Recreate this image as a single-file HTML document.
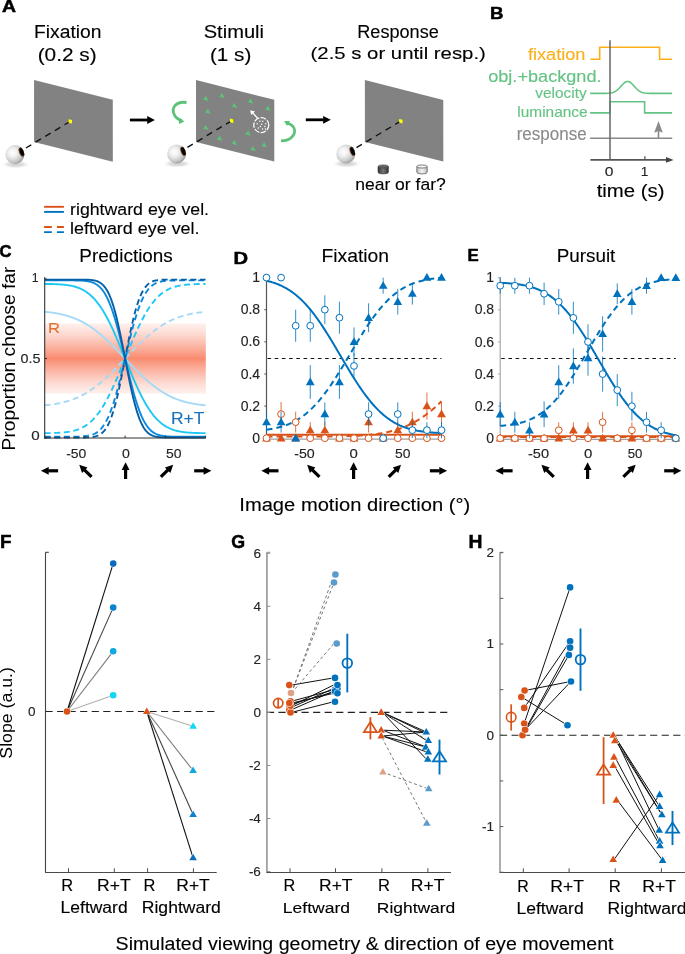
<!DOCTYPE html>
<html><head><meta charset="utf-8"><style>
html,body{margin:0;padding:0;background:#fff;overflow:hidden;}
svg{display:block;will-change:transform;}
text{font-family:"Liberation Sans", sans-serif;}
</style></head><body>
<svg width="685" height="954" viewBox="0 0 685 954">
<rect width="685" height="954" fill="#fff"/>
<defs>
<radialGradient id="eyeg" cx="0.38" cy="0.4" r="0.65">
<stop offset="0" stop-color="#ffffff"/><stop offset="0.35" stop-color="#f0f0f0"/><stop offset="0.75" stop-color="#c8c8c8"/><stop offset="1" stop-color="#999999"/></radialGradient>
<radialGradient id="shad" cx="0.5" cy="0.5" r="0.5">
<stop offset="0" stop-color="#cdcdcd"/><stop offset="0.55" stop-color="#e2e2e2"/><stop offset="1" stop-color="#ffffff" stop-opacity="0"/></radialGradient>
<linearGradient id="band" x1="0" y1="0" x2="0" y2="1"><stop offset="0.0000" stop-color="#f98a6e" stop-opacity="0.132"/><stop offset="0.0143" stop-color="#f98a6e" stop-opacity="0.145"/><stop offset="0.0286" stop-color="#f98a6e" stop-opacity="0.160"/><stop offset="0.0429" stop-color="#f98a6e" stop-opacity="0.175"/><stop offset="0.0571" stop-color="#f98a6e" stop-opacity="0.191"/><stop offset="0.0714" stop-color="#f98a6e" stop-opacity="0.208"/><stop offset="0.0857" stop-color="#f98a6e" stop-opacity="0.226"/><stop offset="0.1000" stop-color="#f98a6e" stop-opacity="0.245"/><stop offset="0.1143" stop-color="#f98a6e" stop-opacity="0.265"/><stop offset="0.1286" stop-color="#f98a6e" stop-opacity="0.286"/><stop offset="0.1429" stop-color="#f98a6e" stop-opacity="0.308"/><stop offset="0.1571" stop-color="#f98a6e" stop-opacity="0.330"/><stop offset="0.1714" stop-color="#f98a6e" stop-opacity="0.353"/><stop offset="0.1857" stop-color="#f98a6e" stop-opacity="0.377"/><stop offset="0.2000" stop-color="#f98a6e" stop-opacity="0.402"/><stop offset="0.2143" stop-color="#f98a6e" stop-opacity="0.427"/><stop offset="0.2286" stop-color="#f98a6e" stop-opacity="0.452"/><stop offset="0.2429" stop-color="#f98a6e" stop-opacity="0.479"/><stop offset="0.2571" stop-color="#f98a6e" stop-opacity="0.505"/><stop offset="0.2714" stop-color="#f98a6e" stop-opacity="0.532"/><stop offset="0.2857" stop-color="#f98a6e" stop-opacity="0.559"/><stop offset="0.3000" stop-color="#f98a6e" stop-opacity="0.586"/><stop offset="0.3143" stop-color="#f98a6e" stop-opacity="0.613"/><stop offset="0.3286" stop-color="#f98a6e" stop-opacity="0.640"/><stop offset="0.3429" stop-color="#f98a6e" stop-opacity="0.668"/><stop offset="0.3571" stop-color="#f98a6e" stop-opacity="0.695"/><stop offset="0.3714" stop-color="#f98a6e" stop-opacity="0.723"/><stop offset="0.3857" stop-color="#f98a6e" stop-opacity="0.751"/><stop offset="0.4000" stop-color="#f98a6e" stop-opacity="0.779"/><stop offset="0.4143" stop-color="#f98a6e" stop-opacity="0.808"/><stop offset="0.4286" stop-color="#f98a6e" stop-opacity="0.837"/><stop offset="0.4429" stop-color="#f98a6e" stop-opacity="0.867"/><stop offset="0.4571" stop-color="#f98a6e" stop-opacity="0.898"/><stop offset="0.4714" stop-color="#f98a6e" stop-opacity="0.930"/><stop offset="0.4857" stop-color="#f98a6e" stop-opacity="0.964"/><stop offset="0.5000" stop-color="#f98a6e" stop-opacity="1.000"/><stop offset="0.5143" stop-color="#f98a6e" stop-opacity="0.964"/><stop offset="0.5286" stop-color="#f98a6e" stop-opacity="0.930"/><stop offset="0.5429" stop-color="#f98a6e" stop-opacity="0.898"/><stop offset="0.5571" stop-color="#f98a6e" stop-opacity="0.867"/><stop offset="0.5714" stop-color="#f98a6e" stop-opacity="0.837"/><stop offset="0.5857" stop-color="#f98a6e" stop-opacity="0.808"/><stop offset="0.6000" stop-color="#f98a6e" stop-opacity="0.779"/><stop offset="0.6143" stop-color="#f98a6e" stop-opacity="0.751"/><stop offset="0.6286" stop-color="#f98a6e" stop-opacity="0.723"/><stop offset="0.6429" stop-color="#f98a6e" stop-opacity="0.695"/><stop offset="0.6571" stop-color="#f98a6e" stop-opacity="0.668"/><stop offset="0.6714" stop-color="#f98a6e" stop-opacity="0.640"/><stop offset="0.6857" stop-color="#f98a6e" stop-opacity="0.613"/><stop offset="0.7000" stop-color="#f98a6e" stop-opacity="0.586"/><stop offset="0.7143" stop-color="#f98a6e" stop-opacity="0.559"/><stop offset="0.7286" stop-color="#f98a6e" stop-opacity="0.532"/><stop offset="0.7429" stop-color="#f98a6e" stop-opacity="0.505"/><stop offset="0.7571" stop-color="#f98a6e" stop-opacity="0.479"/><stop offset="0.7714" stop-color="#f98a6e" stop-opacity="0.452"/><stop offset="0.7857" stop-color="#f98a6e" stop-opacity="0.427"/><stop offset="0.8000" stop-color="#f98a6e" stop-opacity="0.402"/><stop offset="0.8143" stop-color="#f98a6e" stop-opacity="0.377"/><stop offset="0.8286" stop-color="#f98a6e" stop-opacity="0.353"/><stop offset="0.8429" stop-color="#f98a6e" stop-opacity="0.330"/><stop offset="0.8571" stop-color="#f98a6e" stop-opacity="0.308"/><stop offset="0.8714" stop-color="#f98a6e" stop-opacity="0.286"/><stop offset="0.8857" stop-color="#f98a6e" stop-opacity="0.265"/><stop offset="0.9000" stop-color="#f98a6e" stop-opacity="0.245"/><stop offset="0.9143" stop-color="#f98a6e" stop-opacity="0.226"/><stop offset="0.9286" stop-color="#f98a6e" stop-opacity="0.208"/><stop offset="0.9429" stop-color="#f98a6e" stop-opacity="0.191"/><stop offset="0.9571" stop-color="#f98a6e" stop-opacity="0.175"/><stop offset="0.9714" stop-color="#f98a6e" stop-opacity="0.160"/><stop offset="0.9857" stop-color="#f98a6e" stop-opacity="0.145"/><stop offset="1.0000" stop-color="#f98a6e" stop-opacity="0.132"/></linearGradient>
<linearGradient id="btn1" x1="0" y1="0" x2="1" y2="0"><stop offset="0" stop-color="#333"/><stop offset="0.5" stop-color="#777"/><stop offset="1" stop-color="#333"/></linearGradient>
<linearGradient id="btn2" x1="0" y1="0" x2="1" y2="0"><stop offset="0" stop-color="#bbb"/><stop offset="0.5" stop-color="#f4f4f4"/><stop offset="1" stop-color="#bbb"/></linearGradient>
</defs>
<text x="1.92" y="12.47" font-size="16.62" fill="#000" stroke="#000" stroke-width="0.5" font-weight="bold" textLength="14.01" lengthAdjust="spacingAndGlyphs" >A</text>
<text x="33.96" y="37.9" font-size="17.92" fill="#000" stroke="#000" stroke-width="0.12" textLength="67.53" lengthAdjust="spacingAndGlyphs" >Fixation</text>
<text x="37.65" y="60.55" font-size="17.87" fill="#000" stroke="#000" stroke-width="0.12" textLength="58.98" lengthAdjust="spacingAndGlyphs" >(0.2 s)</text>
<text x="203.69" y="37.6" font-size="17.92" fill="#000" stroke="#000" stroke-width="0.12" textLength="60.33" lengthAdjust="spacingAndGlyphs" >Stimuli</text>
<text x="209.96" y="60.52" font-size="17.98" fill="#000" stroke="#000" stroke-width="0.12" textLength="41.38" lengthAdjust="spacingAndGlyphs" >(1 s)</text>
<text x="357.25" y="37.8" font-size="17.74" fill="#000" stroke="#000" stroke-width="0.12" textLength="81.53" lengthAdjust="spacingAndGlyphs" >Response</text>
<text x="310.58" y="59.23" font-size="17.02" fill="#000" stroke="#000" stroke-width="0.12" textLength="175.23" lengthAdjust="spacingAndGlyphs" >(2.5 s or until resp.)</text>
<polygon points="34.05,80 112.8,99.8 112.8,161.7 34.05,141.9" fill="#828282" stroke="none" stroke-width="1" />
<polygon points="196,80 274.3,99.8 274.3,161.6 196,141.9" fill="#828282" stroke="none" stroke-width="1" />
<polygon points="364.9,80 443.3,100 443.3,161.5 364.9,141.9" fill="#828282" stroke="none" stroke-width="1" />
<ellipse cx="15.7" cy="164.4" rx="15" ry="4.2" fill="url(#shad)"/>
<line x1="70" y1="121.5" x2="23.99" y2="149.14" stroke="#111" stroke-width="1.4" stroke-dasharray="6.3,5" />
<clipPath id="eyc1"><circle cx="14.9" cy="154.6" r="9.5"/></clipPath>
<circle cx="14.9" cy="154.6" r="9.5" fill="url(#eyeg)" stroke="none" stroke-width="1" />
<g clip-path="url(#eyc1)"><ellipse cx="21.8" cy="151.9" rx="2.5" ry="4.7" transform="rotate(-20 21.8 151.9)" fill="#050505" stroke="#8a5530" stroke-width="0.7"/></g>
<polygon points="68.6,119.18 72,120.02 72,123.62 68.6,122.78" fill="#ffff00" stroke="none" stroke-width="1" />
<ellipse cx="177.4" cy="163.7" rx="15" ry="4.2" fill="url(#shad)"/>
<line x1="231.5" y1="120.8" x2="185.68" y2="148.43" stroke="#111" stroke-width="1.4" stroke-dasharray="6.3,5" />
<clipPath id="eyc2"><circle cx="176.6" cy="153.9" r="9.5"/></clipPath>
<circle cx="176.6" cy="153.9" r="9.5" fill="url(#eyeg)" stroke="none" stroke-width="1" />
<g clip-path="url(#eyc2)"><ellipse cx="183.5" cy="151.2" rx="2.5" ry="4.7" transform="rotate(-20 183.5 151.2)" fill="#050505" stroke="#8a5530" stroke-width="0.7"/></g>
<polygon points="229.9,118.58 233.3,119.42 233.3,123.02 229.9,122.18" fill="#ffff00" stroke="none" stroke-width="1" />
<ellipse cx="346.6" cy="163.7" rx="15" ry="4.2" fill="url(#shad)"/>
<line x1="400.7" y1="121.2" x2="354.91" y2="148.48" stroke="#111" stroke-width="1.4" stroke-dasharray="6.3,5" />
<clipPath id="eyc3"><circle cx="345.8" cy="153.9" r="9.5"/></clipPath>
<circle cx="345.8" cy="153.9" r="9.5" fill="url(#eyeg)" stroke="none" stroke-width="1" />
<g clip-path="url(#eyc3)"><ellipse cx="352.7" cy="151.2" rx="2.5" ry="4.7" transform="rotate(-20 352.7 151.2)" fill="#050505" stroke="#8a5530" stroke-width="0.7"/></g>
<polygon points="399.1,118.98 402.5,119.82 402.5,123.42 399.1,122.58" fill="#ffff00" stroke="none" stroke-width="1" />
<polygon points="205.91,95.86 208.61,101.03 203.21,99.69" fill="#5cc27a" stroke="none" stroke-width="1" />
<polygon points="222.03,92.88 224.73,98.05 219.33,96.72" fill="#5cc27a" stroke="none" stroke-width="1" />
<polygon points="234.44,102.81 237.14,107.98 231.74,106.64" fill="#5cc27a" stroke="none" stroke-width="1" />
<polygon points="250.57,98.34 253.27,103.51 247.87,102.18" fill="#5cc27a" stroke="none" stroke-width="1" />
<polygon points="267.94,105.79 270.64,110.95 265.24,109.62" fill="#5cc27a" stroke="none" stroke-width="1" />
<polygon points="207.89,108.76 210.59,113.93 205.19,112.6" fill="#5cc27a" stroke="none" stroke-width="1" />
<polygon points="205.91,124.89 208.61,130.06 203.21,128.73" fill="#5cc27a" stroke="none" stroke-width="1" />
<polygon points="219.55,135.56 222.25,140.73 216.85,139.4" fill="#5cc27a" stroke="none" stroke-width="1" />
<polygon points="234.44,140.03 237.14,145.2 231.74,143.86" fill="#5cc27a" stroke="none" stroke-width="1" />
<polygon points="248.09,130.6 250.79,135.77 245.39,134.43" fill="#5cc27a" stroke="none" stroke-width="1" />
<polygon points="253.05,145.99 255.75,151.15 250.35,149.82" fill="#5cc27a" stroke="none" stroke-width="1" />
<polygon points="264.22,142.26 266.92,147.43 261.52,146.1" fill="#5cc27a" stroke="none" stroke-width="1" />
<circle cx="261.3" cy="125.1" r="7.5" fill="none" stroke="#fff" stroke-width="1.25" stroke-dasharray="5.5,1.4"/>
<circle cx="259.85" cy="121.31" r="0.75" fill="#fff" stroke="none" stroke-width="1" />
<circle cx="262.77" cy="121.31" r="0.75" fill="#fff" stroke="none" stroke-width="1" />
<circle cx="257.23" cy="123.65" r="0.75" fill="#fff" stroke="none" stroke-width="1" />
<circle cx="261.61" cy="124.23" r="0.75" fill="#fff" stroke="none" stroke-width="1" />
<circle cx="265.69" cy="123.65" r="0.75" fill="#fff" stroke="none" stroke-width="1" />
<circle cx="260.44" cy="126.57" r="0.75" fill="#fff" stroke="none" stroke-width="1" />
<circle cx="264.82" cy="126.57" r="0.75" fill="#fff" stroke="none" stroke-width="1" />
<circle cx="258.39" cy="128.03" r="0.75" fill="#fff" stroke="none" stroke-width="1" />
<circle cx="262.48" cy="128.91" r="0.75" fill="#fff" stroke="none" stroke-width="1" />
<circle cx="265.4" cy="128.91" r="0.75" fill="#fff" stroke="none" stroke-width="1" />
<line x1="257.5" y1="118.1" x2="252.71" y2="112.92" stroke="#fff" stroke-width="1.3" />
<polygon points="250.2,110.2 254.96,111.52 251.14,115.05" fill="#fff" stroke="none" stroke-width="1" />
<path d="M 186.5 102.5 C 176 101, 170 108, 175 116 C 177 119, 180 120, 182 120.5" fill="none" stroke="#5cc27a" stroke-width="2.8"/>
<polygon points="184.5,121.5 178.5,117.6 179,124" fill="#5cc27a" stroke="none" stroke-width="1" />
<path d="M 281 140.9 C 291 141, 296.5 134, 294 128 C 292.5 125, 290 123.8, 287.5 123.2" fill="none" stroke="#5cc27a" stroke-width="2.7"/>
<polygon points="284.2,121 290,121 287,126" fill="#5cc27a" stroke="none" stroke-width="1" />
<line x1="129.9" y1="120" x2="147.7" y2="120" stroke="#000" stroke-width="2.8" />
<polygon points="154.9,120 147.2,123.9 147.2,116.1" fill="#000" stroke="none" stroke-width="1" />
<line x1="305.8" y1="119.8" x2="323.6" y2="119.8" stroke="#000" stroke-width="2.8" />
<polygon points="330.8,119.8 323.1,123.7 323.1,115.9" fill="#000" stroke="none" stroke-width="1" />
<path d="M 378 166.5 L 378 172.3 A 5.2 1.6 0 0 0 388.4 172.3 L 388.4 166.5 Z" fill="url(#btn1)" stroke="#333" stroke-width="0.6"/>
<ellipse cx="383.2" cy="166.5" rx="5.2" ry="1.6" fill="#666" stroke="#333" stroke-width="0.6"/>
<path d="M 416.8 166.5 L 416.8 172.3 A 5.2 1.6 0 0 0 427.2 172.3 L 427.2 166.5 Z" fill="url(#btn2)" stroke="#333" stroke-width="0.6"/>
<ellipse cx="422" cy="166.5" rx="5.2" ry="1.6" fill="#f2f2f2" stroke="#333" stroke-width="0.6"/>
<text x="355.17" y="189.9" font-size="16.98" fill="#000" stroke="#000" stroke-width="0.12" textLength="90.62" lengthAdjust="spacingAndGlyphs" >near or far?</text>
<text x="490.09" y="18.9" font-size="16.67" fill="#000" stroke="#000" stroke-width="0.5" font-weight="bold" textLength="13.5" lengthAdjust="spacingAndGlyphs" >B</text>
<text x="527.92" y="60.3" font-size="16.6" fill="#fbb01a" stroke="#fbb01a" stroke-width="0.12" textLength="57.53" lengthAdjust="spacingAndGlyphs" >fixation</text>
<text x="488.18" y="81.9" font-size="16.6" fill="#63c383" stroke="#63c383" stroke-width="0.12" textLength="113.35" lengthAdjust="spacingAndGlyphs" >obj.+backgnd.</text>
<text x="535.35" y="97.6" font-size="14.91" fill="#63c383" stroke="#63c383" stroke-width="0.12" textLength="51.32" lengthAdjust="spacingAndGlyphs" >velocity</text>
<text x="517.32" y="116.7" font-size="13.96" fill="#63c383" stroke="#63c383" stroke-width="0.12" textLength="70.32" lengthAdjust="spacingAndGlyphs" >luminance</text>
<text x="516.71" y="139.9" font-size="17.92" fill="#8a8a8a" stroke="#8a8a8a" stroke-width="0.12" textLength="69.94" lengthAdjust="spacingAndGlyphs" >response</text>
<polyline points="590.4,59.3 599.7,59.3 599.7,47.3 659.6,47.3 659.6,59.3 672,59.3" fill="none" stroke="#fbb01a" stroke-width="1.6" />
<polyline points="590.1,93.4 591.1,93.4 592.1,93.4 593.1,93.4 594.1,93.4 595.1,93.4 596.1,93.4 597.1,93.4 598.1,93.4 599.1,93.4 600.1,93.4 601.1,93.4 602.1,93.39 603.1,93.39 604.1,93.38 605.1,93.37 606.1,93.35 607.1,93.32 608.1,93.27 609.1,93.19 610.1,93.08 611.1,92.92 612.1,92.7 613.1,92.4 614.1,92.01 615.1,91.51 616.1,90.89 617.1,90.15 618.1,89.28 619.1,88.3 620.1,87.23 621.1,86.12 622.1,85.01 623.1,83.96 624.1,83.02 625.1,82.26 626.1,81.72 627.1,81.44 628.1,81.44 629.1,81.72 630.1,82.26 631.1,83.02 632.1,83.96 633.1,85.01 634.1,86.12 635.1,87.23 636.1,88.3 637.1,89.28 638.1,90.15 639.1,90.89 640.1,91.51 641.1,92.01 642.1,92.4 643.1,92.7 644.1,92.92 645.1,93.08 646.1,93.19 647.1,93.27 648.1,93.32 649.1,93.35 650.1,93.37 651.1,93.38 652.1,93.39 653.1,93.39 654.1,93.4 655.1,93.4 656.1,93.4 657.1,93.4 658.1,93.4 659.1,93.4 660.1,93.4 661.1,93.4 662.1,93.4 663.1,93.4 664.1,93.4 665.1,93.4 666.1,93.4 667.1,93.4 668.1,93.4 669.1,93.4 670.1,93.4 671.1,93.4 672.1,93.4" fill="none" stroke="#63c383" stroke-width="1.6" />
<polyline points="590.1,112.9 610,112.9 610,101.8 644.6,101.8 644.6,112.9 672,112.9" fill="none" stroke="#63c383" stroke-width="1.6" />
<line x1="590.1" y1="138.2" x2="672.2" y2="138.2" stroke="#8a8a8a" stroke-width="1.6" />
<line x1="658.5" y1="138.2" x2="658.5" y2="130.5" stroke="#8a8a8a" stroke-width="1.6" />
<polygon points="658.5,121 662.8,132.7 658.5,131 654.2,132.7" fill="#8a8a8a" stroke="none" stroke-width="1" />
<line x1="610" y1="40.2" x2="610" y2="160" stroke="#6e6e6e" stroke-width="1.6" />
<line x1="590.4" y1="159.9" x2="667" y2="159.9" stroke="#555" stroke-width="1.6" />
<polygon points="673.6,159.9 666,157.1 666,162.7" fill="#444" stroke="none" stroke-width="1" />
<line x1="644.9" y1="156.2" x2="644.9" y2="159.9" stroke="#555" stroke-width="1.3" />
<text x="604.88" y="176.17" font-size="12.96" fill="#222" stroke="#222" stroke-width="0.12" textLength="8.69" lengthAdjust="spacingAndGlyphs" >0</text>
<text x="640.8" y="176.3" font-size="13.33" fill="#222" stroke="#222" stroke-width="0.12" textLength="7.63" lengthAdjust="spacingAndGlyphs" >1</text>
<text x="596.69" y="196.9" font-size="18.11" fill="#000" stroke="#000" stroke-width="0.12" textLength="67.79" lengthAdjust="spacingAndGlyphs" >time (s)</text>
<line x1="44.1" y1="206.8" x2="63.9" y2="206.8" stroke="#d95319" stroke-width="1.9" />
<line x1="44.1" y1="211.9" x2="63.9" y2="211.9" stroke="#0072bd" stroke-width="1.9" />
<line x1="44.1" y1="227" x2="63.9" y2="227" stroke="#d95319" stroke-width="1.9" stroke-dasharray="7.7,5.1" />
<line x1="44.1" y1="232.1" x2="63.9" y2="232.1" stroke="#0072bd" stroke-width="1.9" stroke-dasharray="7.7,5.1" />
<text x="70.06" y="214.8" font-size="17.36" fill="#000" stroke="#000" stroke-width="0.12" textLength="138.98" lengthAdjust="spacingAndGlyphs" >rightward eye vel.</text>
<text x="70.05" y="233.6" font-size="16.98" fill="#000" stroke="#000" stroke-width="0.12" textLength="129.47" lengthAdjust="spacingAndGlyphs" >leftward eye vel.</text>
<text x="-0.46" y="256.94" font-size="15.92" fill="#000" stroke="#000" stroke-width="0.5" font-weight="bold" textLength="12" lengthAdjust="spacingAndGlyphs" >C</text>
<text x="79.39" y="261.5" font-size="17.92" fill="#000" stroke="#000" stroke-width="0.12" textLength="93.41" lengthAdjust="spacingAndGlyphs" >Predictions</text>
<text x="321.45" y="261.6" font-size="18.11" fill="#000" stroke="#000" stroke-width="0.12" textLength="67.63" lengthAdjust="spacingAndGlyphs" >Fixation</text>
<text x="556.69" y="261.5" font-size="17.92" fill="#000" stroke="#000" stroke-width="0.12" textLength="58.65" lengthAdjust="spacingAndGlyphs" >Pursuit</text>
<text x="233.59" y="263.6" font-size="15.94" fill="#000" stroke="#000" stroke-width="0.5" font-weight="bold" textLength="14.56" lengthAdjust="spacingAndGlyphs" >D</text>
<text x="467.52" y="261" font-size="15.94" fill="#000" stroke="#000" stroke-width="0.5" font-weight="bold" textLength="11.2" lengthAdjust="spacingAndGlyphs" >E</text>
<text transform="translate(15.3,448.9) rotate(-90)" x="-1.54" y="0" font-size="18.11" fill="#000" textLength="183.84" lengthAdjust="spacingAndGlyphs">Proportion choose far</text>
<rect x="44.8" y="323.55" width="161" height="70" fill="url(#band)"/>
<text x="48.07" y="332.55" font-size="14.56" fill="#e07030" stroke="#e07030" stroke-width="0.12" textLength="12" lengthAdjust="spacingAndGlyphs" >R</text>
<text x="171" y="423.9" font-size="16.96" fill="#1a72bb" stroke="#1a72bb" stroke-width="0.12" textLength="33.47" lengthAdjust="spacingAndGlyphs" >R+T</text>
<polyline points="44.65,311.82 45.45,311.9 46.26,311.97 47.06,312.06 47.87,312.14 48.67,312.23 49.48,312.32 50.28,312.42 51.09,312.53 51.89,312.63 52.69,312.75 53.5,312.86 54.3,312.99 55.11,313.11 55.91,313.25 56.72,313.39 57.52,313.53 58.33,313.69 59.13,313.85 59.94,314.01 60.74,314.18 61.54,314.36 62.35,314.55 63.15,314.74 63.96,314.94 64.76,315.15 65.57,315.37 66.37,315.59 67.18,315.82 67.98,316.06 68.78,316.31 69.59,316.57 70.39,316.84 71.2,317.11 72,317.4 72.81,317.69 73.61,318 74.42,318.31 75.22,318.64 76.03,318.97 76.83,319.32 77.63,319.67 78.44,320.04 79.24,320.41 80.05,320.8 80.85,321.2 81.66,321.61 82.46,322.03 83.27,322.46 84.07,322.9 84.88,323.35 85.68,323.82 86.48,324.29 87.29,324.78 88.09,325.28 88.9,325.79 89.7,326.31 90.51,326.84 91.31,327.39 92.12,327.95 92.92,328.51 93.72,329.09 94.53,329.68 95.33,330.28 96.14,330.9 96.94,331.52 97.75,332.15 98.55,332.8 99.36,333.45 100.16,334.12 100.97,334.8 101.77,335.48 102.57,336.18 103.38,336.88 104.18,337.6 104.99,338.32 105.79,339.06 106.6,339.8 107.4,340.55 108.21,341.31 109.01,342.08 109.81,342.85 110.62,343.63 111.42,344.42 112.23,345.22 113.03,346.02 113.84,346.83 114.64,347.64 115.45,348.46 116.25,349.28 117.05,350.11 117.86,350.94 118.66,351.78 119.47,352.62 120.27,353.46 121.08,354.3 121.88,355.15 122.69,356 123.49,356.85 124.3,357.7 125.1,358.55 125.9,359.4 126.71,360.25 127.51,361.1 128.32,361.95 129.12,362.8 129.93,363.64 130.73,364.48 131.54,365.32 132.34,366.16 133.14,366.99 133.95,367.82 134.75,368.64 135.56,369.46 136.36,370.27 137.17,371.08 137.97,371.88 138.78,372.68 139.58,373.47 140.39,374.25 141.19,375.02 141.99,375.79 142.8,376.55 143.6,377.3 144.41,378.04 145.21,378.78 146.02,379.5 146.82,380.22 147.63,380.92 148.43,381.62 149.23,382.3 150.04,382.98 150.84,383.65 151.65,384.3 152.45,384.95 153.26,385.58 154.06,386.2 154.87,386.82 155.67,387.42 156.48,388.01 157.28,388.59 158.08,389.15 158.89,389.71 159.69,390.26 160.5,390.79 161.3,391.31 162.11,391.82 162.91,392.32 163.72,392.81 164.52,393.28 165.32,393.75 166.13,394.2 166.93,394.64 167.74,395.07 168.54,395.49 169.35,395.9 170.15,396.3 170.96,396.69 171.76,397.06 172.57,397.43 173.37,397.78 174.17,398.13 174.98,398.46 175.78,398.79 176.59,399.1 177.39,399.41 178.2,399.7 179,399.99 179.81,400.26 180.61,400.53 181.41,400.79 182.22,401.04 183.02,401.28 183.83,401.51 184.63,401.73 185.44,401.95 186.24,402.16 187.05,402.36 187.85,402.55 188.66,402.74 189.46,402.92 190.26,403.09 191.07,403.25 191.87,403.41 192.68,403.57 193.48,403.71 194.29,403.85 195.09,403.99 195.9,404.11 196.7,404.24 197.5,404.35 198.31,404.47 199.11,404.57 199.92,404.68 200.72,404.78 201.53,404.87 202.33,404.96 203.14,405.04 203.94,405.13 204.75,405.2 205.55,405.28" fill="none" stroke="#a6d9f5" stroke-width="1.9" stroke-linecap="butt"/>
<polyline points="44.65,405.28 45.45,405.2 46.26,405.13 47.06,405.04 47.87,404.96 48.67,404.87 49.48,404.78 50.28,404.68 51.09,404.57 51.89,404.47 52.69,404.35 53.5,404.24 54.3,404.11 55.11,403.99 55.91,403.85 56.72,403.71 57.52,403.57 58.33,403.41 59.13,403.25 59.94,403.09 60.74,402.92 61.54,402.74 62.35,402.55 63.15,402.36 63.96,402.16 64.76,401.95 65.57,401.73 66.37,401.51 67.18,401.28 67.98,401.04 68.78,400.79 69.59,400.53 70.39,400.26 71.2,399.99 72,399.7 72.81,399.41 73.61,399.1 74.42,398.79 75.22,398.46 76.03,398.13 76.83,397.78 77.63,397.43 78.44,397.06 79.24,396.69 80.05,396.3 80.85,395.9 81.66,395.49 82.46,395.07 83.27,394.64 84.07,394.2 84.88,393.75 85.68,393.28 86.48,392.81 87.29,392.32 88.09,391.82 88.9,391.31 89.7,390.79 90.51,390.26 91.31,389.71 92.12,389.15 92.92,388.59 93.72,388.01 94.53,387.42 95.33,386.82 96.14,386.2 96.94,385.58 97.75,384.95 98.55,384.3 99.36,383.65 100.16,382.98 100.97,382.3 101.77,381.62 102.57,380.92 103.38,380.22 104.18,379.5 104.99,378.78 105.79,378.04 106.6,377.3 107.4,376.55 108.21,375.79 109.01,375.02 109.81,374.25 110.62,373.47 111.42,372.68 112.23,371.88 113.03,371.08 113.84,370.27 114.64,369.46 115.45,368.64 116.25,367.82 117.05,366.99 117.86,366.16 118.66,365.32 119.47,364.48 120.27,363.64 121.08,362.8 121.88,361.95 122.69,361.1 123.49,360.25 124.3,359.4 125.1,358.55 125.9,357.7 126.71,356.85 127.51,356 128.32,355.15 129.12,354.3 129.93,353.46 130.73,352.62 131.54,351.78 132.34,350.94 133.14,350.11 133.95,349.28 134.75,348.46 135.56,347.64 136.36,346.83 137.17,346.02 137.97,345.22 138.78,344.42 139.58,343.63 140.39,342.85 141.19,342.08 141.99,341.31 142.8,340.55 143.6,339.8 144.41,339.06 145.21,338.32 146.02,337.6 146.82,336.88 147.63,336.18 148.43,335.48 149.23,334.8 150.04,334.12 150.84,333.45 151.65,332.8 152.45,332.15 153.26,331.52 154.06,330.9 154.87,330.28 155.67,329.68 156.48,329.09 157.28,328.51 158.08,327.95 158.89,327.39 159.69,326.84 160.5,326.31 161.3,325.79 162.11,325.28 162.91,324.78 163.72,324.29 164.52,323.82 165.32,323.35 166.13,322.9 166.93,322.46 167.74,322.03 168.54,321.61 169.35,321.2 170.15,320.8 170.96,320.41 171.76,320.04 172.57,319.67 173.37,319.32 174.17,318.97 174.98,318.64 175.78,318.31 176.59,318 177.39,317.69 178.2,317.4 179,317.11 179.81,316.84 180.61,316.57 181.41,316.31 182.22,316.06 183.02,315.82 183.83,315.59 184.63,315.37 185.44,315.15 186.24,314.94 187.05,314.74 187.85,314.55 188.66,314.36 189.46,314.18 190.26,314.01 191.07,313.85 191.87,313.69 192.68,313.53 193.48,313.39 194.29,313.25 195.09,313.11 195.9,312.99 196.7,312.86 197.5,312.75 198.31,312.63 199.11,312.53 199.92,312.42 200.72,312.32 201.53,312.23 202.33,312.14 203.14,312.06 203.94,311.97 204.75,311.9 205.55,311.82" fill="none" stroke="#a6d9f5" stroke-width="1.9" stroke-dasharray="6,3.6" stroke-linecap="butt"/>
<polyline points="44.65,283.93 45.45,283.94 46.26,283.95 47.06,283.96 47.87,283.97 48.67,283.98 49.48,284 50.28,284.01 51.09,284.03 51.89,284.05 52.69,284.07 53.5,284.09 54.3,284.12 55.11,284.15 55.91,284.18 56.72,284.21 57.52,284.25 58.33,284.29 59.13,284.34 59.94,284.38 60.74,284.44 61.54,284.5 62.35,284.56 63.15,284.63 63.96,284.71 64.76,284.79 65.57,284.89 66.37,284.98 67.18,285.09 67.98,285.21 68.78,285.33 69.59,285.47 70.39,285.62 71.2,285.77 72,285.94 72.81,286.13 73.61,286.32 74.42,286.54 75.22,286.76 76.03,287.01 76.83,287.27 77.63,287.54 78.44,287.84 79.24,288.16 80.05,288.49 80.85,288.85 81.66,289.23 82.46,289.64 83.27,290.07 84.07,290.52 84.88,291.01 85.68,291.51 86.48,292.05 87.29,292.62 88.09,293.22 88.9,293.85 89.7,294.51 90.51,295.2 91.31,295.93 92.12,296.69 92.92,297.49 93.72,298.33 94.53,299.2 95.33,300.11 96.14,301.05 96.94,302.04 97.75,303.07 98.55,304.13 99.36,305.24 100.16,306.38 100.97,307.56 101.77,308.79 102.57,310.05 103.38,311.36 104.18,312.7 104.99,314.09 105.79,315.51 106.6,316.97 107.4,318.47 108.21,320.01 109.01,321.58 109.81,323.19 110.62,324.83 111.42,326.51 112.23,328.21 113.03,329.95 113.84,331.72 114.64,333.51 115.45,335.34 116.25,337.18 117.05,339.05 117.86,340.94 118.66,342.85 119.47,344.77 120.27,346.71 121.08,348.66 121.88,350.63 122.69,352.6 123.49,354.58 124.3,356.56 125.1,358.55 125.9,360.54 126.71,362.52 127.51,364.5 128.32,366.47 129.12,368.44 129.93,370.39 130.73,372.33 131.54,374.25 132.34,376.16 133.14,378.05 133.95,379.92 134.75,381.76 135.56,383.59 136.36,385.38 137.17,387.15 137.97,388.89 138.78,390.59 139.58,392.27 140.39,393.91 141.19,395.52 141.99,397.09 142.8,398.63 143.6,400.13 144.41,401.59 145.21,403.01 146.02,404.4 146.82,405.74 147.63,407.05 148.43,408.31 149.23,409.54 150.04,410.72 150.84,411.86 151.65,412.97 152.45,414.03 153.26,415.06 154.06,416.05 154.87,416.99 155.67,417.9 156.48,418.77 157.28,419.61 158.08,420.41 158.89,421.17 159.69,421.9 160.5,422.59 161.3,423.25 162.11,423.88 162.91,424.48 163.72,425.05 164.52,425.59 165.32,426.09 166.13,426.58 166.93,427.03 167.74,427.46 168.54,427.87 169.35,428.25 170.15,428.61 170.96,428.94 171.76,429.26 172.57,429.56 173.37,429.83 174.17,430.09 174.98,430.34 175.78,430.56 176.59,430.78 177.39,430.97 178.2,431.16 179,431.33 179.81,431.48 180.61,431.63 181.41,431.77 182.22,431.89 183.02,432.01 183.83,432.12 184.63,432.21 185.44,432.31 186.24,432.39 187.05,432.47 187.85,432.54 188.66,432.6 189.46,432.66 190.26,432.72 191.07,432.76 191.87,432.81 192.68,432.85 193.48,432.89 194.29,432.92 195.09,432.95 195.9,432.98 196.7,433.01 197.5,433.03 198.31,433.05 199.11,433.07 199.92,433.09 200.72,433.1 201.53,433.12 202.33,433.13 203.14,433.14 203.94,433.15 204.75,433.16 205.55,433.17" fill="none" stroke="#1ec8f5" stroke-width="1.9" stroke-linecap="butt"/>
<polyline points="44.65,433.17 45.45,433.16 46.26,433.15 47.06,433.14 47.87,433.13 48.67,433.12 49.48,433.1 50.28,433.09 51.09,433.07 51.89,433.05 52.69,433.03 53.5,433.01 54.3,432.98 55.11,432.95 55.91,432.92 56.72,432.89 57.52,432.85 58.33,432.81 59.13,432.76 59.94,432.72 60.74,432.66 61.54,432.6 62.35,432.54 63.15,432.47 63.96,432.39 64.76,432.31 65.57,432.21 66.37,432.12 67.18,432.01 67.98,431.89 68.78,431.77 69.59,431.63 70.39,431.48 71.2,431.33 72,431.16 72.81,430.97 73.61,430.78 74.42,430.56 75.22,430.34 76.03,430.09 76.83,429.83 77.63,429.56 78.44,429.26 79.24,428.94 80.05,428.61 80.85,428.25 81.66,427.87 82.46,427.46 83.27,427.03 84.07,426.58 84.88,426.09 85.68,425.59 86.48,425.05 87.29,424.48 88.09,423.88 88.9,423.25 89.7,422.59 90.51,421.9 91.31,421.17 92.12,420.41 92.92,419.61 93.72,418.77 94.53,417.9 95.33,416.99 96.14,416.05 96.94,415.06 97.75,414.03 98.55,412.97 99.36,411.86 100.16,410.72 100.97,409.54 101.77,408.31 102.57,407.05 103.38,405.74 104.18,404.4 104.99,403.01 105.79,401.59 106.6,400.13 107.4,398.63 108.21,397.09 109.01,395.52 109.81,393.91 110.62,392.27 111.42,390.59 112.23,388.89 113.03,387.15 113.84,385.38 114.64,383.59 115.45,381.76 116.25,379.92 117.05,378.05 117.86,376.16 118.66,374.25 119.47,372.33 120.27,370.39 121.08,368.44 121.88,366.47 122.69,364.5 123.49,362.52 124.3,360.54 125.1,358.55 125.9,356.56 126.71,354.58 127.51,352.6 128.32,350.63 129.12,348.66 129.93,346.71 130.73,344.77 131.54,342.85 132.34,340.94 133.14,339.05 133.95,337.18 134.75,335.34 135.56,333.51 136.36,331.72 137.17,329.95 137.97,328.21 138.78,326.51 139.58,324.83 140.39,323.19 141.19,321.58 141.99,320.01 142.8,318.47 143.6,316.97 144.41,315.51 145.21,314.09 146.02,312.7 146.82,311.36 147.63,310.05 148.43,308.79 149.23,307.56 150.04,306.38 150.84,305.24 151.65,304.13 152.45,303.07 153.26,302.04 154.06,301.05 154.87,300.11 155.67,299.2 156.48,298.33 157.28,297.49 158.08,296.69 158.89,295.93 159.69,295.2 160.5,294.51 161.3,293.85 162.11,293.22 162.91,292.62 163.72,292.05 164.52,291.51 165.32,291.01 166.13,290.52 166.93,290.07 167.74,289.64 168.54,289.23 169.35,288.85 170.15,288.49 170.96,288.16 171.76,287.84 172.57,287.54 173.37,287.27 174.17,287.01 174.98,286.76 175.78,286.54 176.59,286.32 177.39,286.13 178.2,285.94 179,285.77 179.81,285.62 180.61,285.47 181.41,285.33 182.22,285.21 183.02,285.09 183.83,284.98 184.63,284.89 185.44,284.79 186.24,284.71 187.05,284.63 187.85,284.56 188.66,284.5 189.46,284.44 190.26,284.38 191.07,284.34 191.87,284.29 192.68,284.25 193.48,284.21 194.29,284.18 195.09,284.15 195.9,284.12 196.7,284.09 197.5,284.07 198.31,284.05 199.11,284.03 199.92,284.01 200.72,284 201.53,283.98 202.33,283.97 203.14,283.96 203.94,283.95 204.75,283.94 205.55,283.93" fill="none" stroke="#1ec8f5" stroke-width="1.9" stroke-dasharray="6,3.6" stroke-linecap="butt"/>
<polyline points="44.65,280.37 45.45,280.37 46.26,280.37 47.06,280.37 47.87,280.37 48.67,280.37 49.48,280.37 50.28,280.37 51.09,280.37 51.89,280.37 52.69,280.37 53.5,280.37 54.3,280.37 55.11,280.37 55.91,280.37 56.72,280.37 57.52,280.37 58.33,280.37 59.13,280.37 59.94,280.37 60.74,280.37 61.54,280.37 62.35,280.37 63.15,280.37 63.96,280.37 64.76,280.37 65.57,280.38 66.37,280.38 67.18,280.38 67.98,280.38 68.78,280.38 69.59,280.38 70.39,280.39 71.2,280.39 72,280.4 72.81,280.4 73.61,280.41 74.42,280.42 75.22,280.43 76.03,280.44 76.83,280.45 77.63,280.47 78.44,280.49 79.24,280.52 80.05,280.54 80.85,280.58 81.66,280.62 82.46,280.67 83.27,280.72 84.07,280.79 84.88,280.86 85.68,280.95 86.48,281.05 87.29,281.17 88.09,281.31 88.9,281.46 89.7,281.64 90.51,281.84 91.31,282.07 92.12,282.33 92.92,282.63 93.72,282.96 94.53,283.33 95.33,283.75 96.14,284.21 96.94,284.73 97.75,285.31 98.55,285.95 99.36,286.65 100.16,287.43 100.97,288.28 101.77,289.21 102.57,290.22 103.38,291.32 104.18,292.52 104.99,293.81 105.79,295.2 106.6,296.7 107.4,298.3 108.21,300.01 109.01,301.83 109.81,303.76 110.62,305.8 111.42,307.96 112.23,310.23 113.03,312.61 113.84,315.1 114.64,317.7 115.45,320.4 116.25,323.2 117.05,326.09 117.86,329.07 118.66,332.13 119.47,335.26 120.27,338.46 121.08,341.72 121.88,345.02 122.69,348.37 123.49,351.75 124.3,355.14 125.1,358.55 125.9,361.96 126.71,365.35 127.51,368.73 128.32,372.08 129.12,375.38 129.93,378.64 130.73,381.84 131.54,384.97 132.34,388.03 133.14,391.01 133.95,393.9 134.75,396.7 135.56,399.4 136.36,402 137.17,404.49 137.97,406.87 138.78,409.14 139.58,411.3 140.39,413.34 141.19,415.27 141.99,417.09 142.8,418.8 143.6,420.4 144.41,421.9 145.21,423.29 146.02,424.58 146.82,425.78 147.63,426.88 148.43,427.89 149.23,428.82 150.04,429.67 150.84,430.45 151.65,431.15 152.45,431.79 153.26,432.37 154.06,432.89 154.87,433.35 155.67,433.77 156.48,434.14 157.28,434.47 158.08,434.77 158.89,435.03 159.69,435.26 160.5,435.46 161.3,435.64 162.11,435.79 162.91,435.93 163.72,436.05 164.52,436.15 165.32,436.24 166.13,436.31 166.93,436.38 167.74,436.43 168.54,436.48 169.35,436.52 170.15,436.56 170.96,436.58 171.76,436.61 172.57,436.63 173.37,436.65 174.17,436.66 174.98,436.67 175.78,436.68 176.59,436.69 177.39,436.7 178.2,436.7 179,436.71 179.81,436.71 180.61,436.72 181.41,436.72 182.22,436.72 183.02,436.72 183.83,436.72 184.63,436.72 185.44,436.73 186.24,436.73 187.05,436.73 187.85,436.73 188.66,436.73 189.46,436.73 190.26,436.73 191.07,436.73 191.87,436.73 192.68,436.73 193.48,436.73 194.29,436.73 195.09,436.73 195.9,436.73 196.7,436.73 197.5,436.73 198.31,436.73 199.11,436.73 199.92,436.73 200.72,436.73 201.53,436.73 202.33,436.73 203.14,436.73 203.94,436.73 204.75,436.73 205.55,436.73" fill="none" stroke="#0a88de" stroke-width="1.9" stroke-linecap="butt"/>
<polyline points="44.65,436.73 45.45,436.73 46.26,436.73 47.06,436.73 47.87,436.73 48.67,436.73 49.48,436.73 50.28,436.73 51.09,436.73 51.89,436.73 52.69,436.73 53.5,436.73 54.3,436.73 55.11,436.73 55.91,436.73 56.72,436.73 57.52,436.73 58.33,436.73 59.13,436.73 59.94,436.73 60.74,436.73 61.54,436.73 62.35,436.73 63.15,436.73 63.96,436.73 64.76,436.73 65.57,436.72 66.37,436.72 67.18,436.72 67.98,436.72 68.78,436.72 69.59,436.72 70.39,436.71 71.2,436.71 72,436.7 72.81,436.7 73.61,436.69 74.42,436.68 75.22,436.67 76.03,436.66 76.83,436.65 77.63,436.63 78.44,436.61 79.24,436.58 80.05,436.56 80.85,436.52 81.66,436.48 82.46,436.43 83.27,436.38 84.07,436.31 84.88,436.24 85.68,436.15 86.48,436.05 87.29,435.93 88.09,435.79 88.9,435.64 89.7,435.46 90.51,435.26 91.31,435.03 92.12,434.77 92.92,434.47 93.72,434.14 94.53,433.77 95.33,433.35 96.14,432.89 96.94,432.37 97.75,431.79 98.55,431.15 99.36,430.45 100.16,429.67 100.97,428.82 101.77,427.89 102.57,426.88 103.38,425.78 104.18,424.58 104.99,423.29 105.79,421.9 106.6,420.4 107.4,418.8 108.21,417.09 109.01,415.27 109.81,413.34 110.62,411.3 111.42,409.14 112.23,406.87 113.03,404.49 113.84,402 114.64,399.4 115.45,396.7 116.25,393.9 117.05,391.01 117.86,388.03 118.66,384.97 119.47,381.84 120.27,378.64 121.08,375.38 121.88,372.08 122.69,368.73 123.49,365.35 124.3,361.96 125.1,358.55 125.9,355.14 126.71,351.75 127.51,348.37 128.32,345.02 129.12,341.72 129.93,338.46 130.73,335.26 131.54,332.13 132.34,329.07 133.14,326.09 133.95,323.2 134.75,320.4 135.56,317.7 136.36,315.1 137.17,312.61 137.97,310.23 138.78,307.96 139.58,305.8 140.39,303.76 141.19,301.83 141.99,300.01 142.8,298.3 143.6,296.7 144.41,295.2 145.21,293.81 146.02,292.52 146.82,291.32 147.63,290.22 148.43,289.21 149.23,288.28 150.04,287.43 150.84,286.65 151.65,285.95 152.45,285.31 153.26,284.73 154.06,284.21 154.87,283.75 155.67,283.33 156.48,282.96 157.28,282.63 158.08,282.33 158.89,282.07 159.69,281.84 160.5,281.64 161.3,281.46 162.11,281.31 162.91,281.17 163.72,281.05 164.52,280.95 165.32,280.86 166.13,280.79 166.93,280.72 167.74,280.67 168.54,280.62 169.35,280.58 170.15,280.54 170.96,280.52 171.76,280.49 172.57,280.47 173.37,280.45 174.17,280.44 174.98,280.43 175.78,280.42 176.59,280.41 177.39,280.4 178.2,280.4 179,280.39 179.81,280.39 180.61,280.38 181.41,280.38 182.22,280.38 183.02,280.38 183.83,280.38 184.63,280.38 185.44,280.37 186.24,280.37 187.05,280.37 187.85,280.37 188.66,280.37 189.46,280.37 190.26,280.37 191.07,280.37 191.87,280.37 192.68,280.37 193.48,280.37 194.29,280.37 195.09,280.37 195.9,280.37 196.7,280.37 197.5,280.37 198.31,280.37 199.11,280.37 199.92,280.37 200.72,280.37 201.53,280.37 202.33,280.37 203.14,280.37 203.94,280.37 204.75,280.37 205.55,280.37" fill="none" stroke="#0a88de" stroke-width="1.9" stroke-dasharray="6,3.6" stroke-linecap="butt"/>
<polyline points="44.65,279.58 45.45,279.58 46.26,279.58 47.06,279.58 47.87,279.58 48.67,279.58 49.48,279.58 50.28,279.58 51.09,279.58 51.89,279.58 52.69,279.58 53.5,279.58 54.3,279.58 55.11,279.58 55.91,279.58 56.72,279.58 57.52,279.58 58.33,279.58 59.13,279.58 59.94,279.58 60.74,279.58 61.54,279.58 62.35,279.58 63.15,279.58 63.96,279.58 64.76,279.58 65.57,279.58 66.37,279.58 67.18,279.58 67.98,279.58 68.78,279.58 69.59,279.58 70.39,279.58 71.2,279.58 72,279.58 72.81,279.58 73.61,279.58 74.42,279.58 75.22,279.58 76.03,279.58 76.83,279.58 77.63,279.58 78.44,279.59 79.24,279.59 80.05,279.59 80.85,279.6 81.66,279.6 82.46,279.61 83.27,279.62 84.07,279.63 84.88,279.65 85.68,279.67 86.48,279.69 87.29,279.72 88.09,279.76 88.9,279.8 89.7,279.86 90.51,279.92 91.31,280 92.12,280.1 92.92,280.21 93.72,280.35 94.53,280.51 95.33,280.7 96.14,280.93 96.94,281.19 97.75,281.5 98.55,281.86 99.36,282.27 100.16,282.74 100.97,283.28 101.77,283.9 102.57,284.61 103.38,285.4 104.18,286.3 104.99,287.3 105.79,288.42 106.6,289.66 107.4,291.04 108.21,292.55 109.01,294.21 109.81,296.03 110.62,298 111.42,300.13 112.23,302.43 113.03,304.89 113.84,307.52 114.64,310.32 115.45,313.28 116.25,316.4 117.05,319.68 117.86,323.1 118.66,326.66 119.47,330.35 120.27,334.16 121.08,338.06 121.88,342.05 122.69,346.11 123.49,350.23 124.3,354.38 125.1,358.55 125.9,362.72 126.71,366.87 127.51,370.99 128.32,375.05 129.12,379.04 129.93,382.94 130.73,386.75 131.54,390.44 132.34,394 133.14,397.42 133.95,400.7 134.75,403.82 135.56,406.78 136.36,409.58 137.17,412.21 137.97,414.67 138.78,416.97 139.58,419.1 140.39,421.07 141.19,422.89 141.99,424.55 142.8,426.06 143.6,427.44 144.41,428.68 145.21,429.8 146.02,430.8 146.82,431.7 147.63,432.49 148.43,433.2 149.23,433.82 150.04,434.36 150.84,434.83 151.65,435.24 152.45,435.6 153.26,435.91 154.06,436.17 154.87,436.4 155.67,436.59 156.48,436.75 157.28,436.89 158.08,437 158.89,437.1 159.69,437.18 160.5,437.24 161.3,437.3 162.11,437.34 162.91,437.38 163.72,437.41 164.52,437.43 165.32,437.45 166.13,437.47 166.93,437.48 167.74,437.49 168.54,437.5 169.35,437.5 170.15,437.51 170.96,437.51 171.76,437.51 172.57,437.52 173.37,437.52 174.17,437.52 174.98,437.52 175.78,437.52 176.59,437.52 177.39,437.52 178.2,437.52 179,437.52 179.81,437.52 180.61,437.52 181.41,437.52 182.22,437.52 183.02,437.52 183.83,437.52 184.63,437.52 185.44,437.52 186.24,437.52 187.05,437.52 187.85,437.52 188.66,437.52 189.46,437.52 190.26,437.52 191.07,437.52 191.87,437.52 192.68,437.52 193.48,437.52 194.29,437.52 195.09,437.52 195.9,437.52 196.7,437.52 197.5,437.52 198.31,437.52 199.11,437.52 199.92,437.52 200.72,437.52 201.53,437.52 202.33,437.52 203.14,437.52 203.94,437.52 204.75,437.52 205.55,437.52" fill="none" stroke="#0560a8" stroke-width="1.9" stroke-linecap="butt"/>
<polyline points="44.65,437.52 45.45,437.52 46.26,437.52 47.06,437.52 47.87,437.52 48.67,437.52 49.48,437.52 50.28,437.52 51.09,437.52 51.89,437.52 52.69,437.52 53.5,437.52 54.3,437.52 55.11,437.52 55.91,437.52 56.72,437.52 57.52,437.52 58.33,437.52 59.13,437.52 59.94,437.52 60.74,437.52 61.54,437.52 62.35,437.52 63.15,437.52 63.96,437.52 64.76,437.52 65.57,437.52 66.37,437.52 67.18,437.52 67.98,437.52 68.78,437.52 69.59,437.52 70.39,437.52 71.2,437.52 72,437.52 72.81,437.52 73.61,437.52 74.42,437.52 75.22,437.52 76.03,437.52 76.83,437.52 77.63,437.52 78.44,437.51 79.24,437.51 80.05,437.51 80.85,437.5 81.66,437.5 82.46,437.49 83.27,437.48 84.07,437.47 84.88,437.45 85.68,437.43 86.48,437.41 87.29,437.38 88.09,437.34 88.9,437.3 89.7,437.24 90.51,437.18 91.31,437.1 92.12,437 92.92,436.89 93.72,436.75 94.53,436.59 95.33,436.4 96.14,436.17 96.94,435.91 97.75,435.6 98.55,435.24 99.36,434.83 100.16,434.36 100.97,433.82 101.77,433.2 102.57,432.49 103.38,431.7 104.18,430.8 104.99,429.8 105.79,428.68 106.6,427.44 107.4,426.06 108.21,424.55 109.01,422.89 109.81,421.07 110.62,419.1 111.42,416.97 112.23,414.67 113.03,412.21 113.84,409.58 114.64,406.78 115.45,403.82 116.25,400.7 117.05,397.42 117.86,394 118.66,390.44 119.47,386.75 120.27,382.94 121.08,379.04 121.88,375.05 122.69,370.99 123.49,366.87 124.3,362.72 125.1,358.55 125.9,354.38 126.71,350.23 127.51,346.11 128.32,342.05 129.12,338.06 129.93,334.16 130.73,330.35 131.54,326.66 132.34,323.1 133.14,319.68 133.95,316.4 134.75,313.28 135.56,310.32 136.36,307.52 137.17,304.89 137.97,302.43 138.78,300.13 139.58,298 140.39,296.03 141.19,294.21 141.99,292.55 142.8,291.04 143.6,289.66 144.41,288.42 145.21,287.3 146.02,286.3 146.82,285.4 147.63,284.61 148.43,283.9 149.23,283.28 150.04,282.74 150.84,282.27 151.65,281.86 152.45,281.5 153.26,281.19 154.06,280.93 154.87,280.7 155.67,280.51 156.48,280.35 157.28,280.21 158.08,280.1 158.89,280 159.69,279.92 160.5,279.86 161.3,279.8 162.11,279.76 162.91,279.72 163.72,279.69 164.52,279.67 165.32,279.65 166.13,279.63 166.93,279.62 167.74,279.61 168.54,279.6 169.35,279.6 170.15,279.59 170.96,279.59 171.76,279.59 172.57,279.58 173.37,279.58 174.17,279.58 174.98,279.58 175.78,279.58 176.59,279.58 177.39,279.58 178.2,279.58 179,279.58 179.81,279.58 180.61,279.58 181.41,279.58 182.22,279.58 183.02,279.58 183.83,279.58 184.63,279.58 185.44,279.58 186.24,279.58 187.05,279.58 187.85,279.58 188.66,279.58 189.46,279.58 190.26,279.58 191.07,279.58 191.87,279.58 192.68,279.58 193.48,279.58 194.29,279.58 195.09,279.58 195.9,279.58 196.7,279.58 197.5,279.58 198.31,279.58 199.11,279.58 199.92,279.58 200.72,279.58 201.53,279.58 202.33,279.58 203.14,279.58 203.94,279.58 204.75,279.58 205.55,279.58" fill="none" stroke="#0560a8" stroke-width="1.9" stroke-dasharray="6,3.6" stroke-linecap="butt"/>
<line x1="44.7" y1="277" x2="44.7" y2="438.6" stroke="#333" stroke-width="1.1" />
<line x1="44.2" y1="438" x2="205.8" y2="438" stroke="#333" stroke-width="1.1" />
<line x1="44.65" y1="438" x2="44.65" y2="435.6" stroke="#333" stroke-width="1" />
<line x1="84.88" y1="438" x2="84.88" y2="435.6" stroke="#333" stroke-width="1" />
<line x1="125.1" y1="438" x2="125.1" y2="435.6" stroke="#333" stroke-width="1" />
<line x1="165.32" y1="438" x2="165.32" y2="435.6" stroke="#333" stroke-width="1" />
<line x1="205.55" y1="438" x2="205.55" y2="435.6" stroke="#333" stroke-width="1" />
<line x1="44.7" y1="438" x2="47" y2="438" stroke="#333" stroke-width="1" />
<line x1="44.7" y1="358.55" x2="47" y2="358.55" stroke="#333" stroke-width="1" />
<line x1="44.7" y1="279.1" x2="47" y2="279.1" stroke="#333" stroke-width="1" />
<text x="31.81" y="281.9" font-size="12.75" fill="#222" stroke="#222" stroke-width="0.12" textLength="6.86" lengthAdjust="spacingAndGlyphs" >1</text>
<text x="20.53" y="363.18" font-size="12.25" fill="#222" stroke="#222" stroke-width="0.12" textLength="19.95" lengthAdjust="spacingAndGlyphs" >0.5</text>
<text x="31.39" y="439.67" font-size="12.54" fill="#222" stroke="#222" stroke-width="0.12" textLength="8.46" lengthAdjust="spacingAndGlyphs" >0</text>
<text x="66.24" y="457.87" font-size="12.96" fill="#222" stroke="#222" stroke-width="0.12" textLength="20.15" lengthAdjust="spacingAndGlyphs" >-50</text>
<text x="122.03" y="457.87" font-size="12.96" fill="#222" stroke="#222" stroke-width="0.12" textLength="7.88" lengthAdjust="spacingAndGlyphs" >0</text>
<text x="166.04" y="457.87" font-size="12.96" fill="#222" stroke="#222" stroke-width="0.12" textLength="15.55" lengthAdjust="spacingAndGlyphs" >50</text>
<line x1="58.1" y1="470.8" x2="48.2" y2="470.8" stroke="#000" stroke-width="3.2" />
<polygon points="40.9,470.8 48.7,466.9 48.7,474.7" fill="#000" stroke="none" stroke-width="1" />
<line x1="91.55" y1="476.95" x2="84.41" y2="469.81" stroke="#000" stroke-width="3.2" />
<polygon points="79.25,464.65 87.52,467.41 82.01,472.92" fill="#000" stroke="none" stroke-width="1" />
<line x1="125.6" y1="479" x2="125.6" y2="469.6" stroke="#000" stroke-width="3.2" />
<polygon points="125.6,462.3 129.5,470.1 121.7,470.1" fill="#000" stroke="none" stroke-width="1" />
<line x1="160.85" y1="476.95" x2="167.99" y2="469.81" stroke="#000" stroke-width="3.2" />
<polygon points="173.15,464.65 170.39,472.92 164.88,467.41" fill="#000" stroke="none" stroke-width="1" />
<line x1="194.2" y1="470.8" x2="204.1" y2="470.8" stroke="#000" stroke-width="3.2" />
<polygon points="211.4,470.8 203.6,474.7 203.6,466.9" fill="#000" stroke="none" stroke-width="1" />
<line x1="278.5" y1="470.8" x2="268.6" y2="470.8" stroke="#000" stroke-width="3.2" />
<polygon points="261.3,470.8 269.1,466.9 269.1,474.7" fill="#000" stroke="none" stroke-width="1" />
<line x1="319.45" y1="476.95" x2="312.31" y2="469.81" stroke="#000" stroke-width="3.2" />
<polygon points="307.15,464.65 315.42,467.41 309.91,472.92" fill="#000" stroke="none" stroke-width="1" />
<line x1="353.6" y1="479" x2="353.6" y2="469.6" stroke="#000" stroke-width="3.2" />
<polygon points="353.6,462.3 357.5,470.1 349.7,470.1" fill="#000" stroke="none" stroke-width="1" />
<line x1="388.75" y1="476.95" x2="395.89" y2="469.81" stroke="#000" stroke-width="3.2" />
<polygon points="401.05,464.65 398.29,472.92 392.78,467.41" fill="#000" stroke="none" stroke-width="1" />
<line x1="429.9" y1="470.8" x2="439.8" y2="470.8" stroke="#000" stroke-width="3.2" />
<polygon points="447.1,470.8 439.3,474.7 439.3,466.9" fill="#000" stroke="none" stroke-width="1" />
<line x1="512.6" y1="470.8" x2="502.7" y2="470.8" stroke="#000" stroke-width="3.2" />
<polygon points="495.4,470.8 503.2,466.9 503.2,474.7" fill="#000" stroke="none" stroke-width="1" />
<line x1="553.75" y1="476.95" x2="546.61" y2="469.81" stroke="#000" stroke-width="3.2" />
<polygon points="541.45,464.65 549.72,467.41 544.21,472.92" fill="#000" stroke="none" stroke-width="1" />
<line x1="587.6" y1="479" x2="587.6" y2="469.6" stroke="#000" stroke-width="3.2" />
<polygon points="587.6,462.3 591.5,470.1 583.7,470.1" fill="#000" stroke="none" stroke-width="1" />
<line x1="623.35" y1="476.95" x2="630.49" y2="469.81" stroke="#000" stroke-width="3.2" />
<polygon points="635.65,464.65 632.89,472.92 627.38,467.41" fill="#000" stroke="none" stroke-width="1" />
<line x1="664.2" y1="470.8" x2="674.1" y2="470.8" stroke="#000" stroke-width="3.2" />
<polygon points="681.4,470.8 673.6,474.7 673.6,466.9" fill="#000" stroke="none" stroke-width="1" />
<line x1="266.5" y1="439.2" x2="441.5" y2="439.2" stroke="#a0a0a0" stroke-width="1.2" />
<line x1="266.5" y1="276.8" x2="266.5" y2="439.2" stroke="#555" stroke-width="1.2" />
<line x1="264.3" y1="406.08" x2="266.5" y2="406.08" stroke="#555" stroke-width="1" />
<line x1="264.3" y1="373.96" x2="266.5" y2="373.96" stroke="#555" stroke-width="1" />
<line x1="264.3" y1="341.84" x2="266.5" y2="341.84" stroke="#555" stroke-width="1" />
<line x1="264.3" y1="309.72" x2="266.5" y2="309.72" stroke="#555" stroke-width="1" />
<line x1="264.3" y1="277.6" x2="266.5" y2="277.6" stroke="#555" stroke-width="1" />
<line x1="267.5" y1="358.5" x2="441.5" y2="358.5" stroke="#111" stroke-width="1.0" stroke-dasharray="3.6,3.6" />
<polyline points="266.5,434.83 267.47,434.83 268.45,434.83 269.42,434.83 270.39,434.83 271.36,434.83 272.34,434.83 273.31,434.83 274.28,434.83 275.25,434.83 276.22,434.83 277.2,434.83 278.17,434.83 279.14,434.83 280.11,434.83 281.09,434.83 282.06,434.83 283.03,434.83 284,434.83 284.97,434.83 285.95,434.83 286.92,434.83 287.89,434.83 288.86,434.83 289.83,434.83 290.81,434.83 291.78,434.83 292.75,434.83 293.72,434.83 294.7,434.83 295.67,434.83 296.64,434.83 297.61,434.83 298.58,434.83 299.56,434.83 300.53,434.83 301.5,434.83 302.47,434.83 303.45,434.83 304.42,434.83 305.39,434.83 306.36,434.83 307.33,434.83 308.31,434.83 309.28,434.83 310.25,434.83 311.22,434.83 312.2,434.83 313.17,434.83 314.14,434.83 315.11,434.83 316.08,434.83 317.06,434.83 318.03,434.83 319,434.83 319.97,434.83 320.95,434.83 321.92,434.83 322.89,434.83 323.86,434.83 324.83,434.83 325.81,434.83 326.78,434.83 327.75,434.83 328.72,434.83 329.69,434.83 330.67,434.83 331.64,434.83 332.61,434.83 333.58,434.83 334.56,434.83 335.53,434.83 336.5,434.83 337.47,434.83 338.44,434.83 339.42,434.83 340.39,434.83 341.36,434.83 342.33,434.83 343.31,434.83 344.28,434.83 345.25,434.83 346.22,434.83 347.19,434.83 348.17,434.83 349.14,434.83 350.11,434.83 351.08,434.83 352.06,434.83 353.03,434.83 354,434.83 354.97,434.83 355.94,434.83 356.92,434.83 357.89,434.83 358.86,434.83 359.83,434.83 360.81,434.83 361.78,434.83 362.75,434.83 363.72,434.83 364.69,434.83 365.67,434.83 366.64,434.83 367.61,434.83 368.58,434.83 369.56,434.83 370.53,434.83 371.5,434.83 372.47,434.83 373.44,434.83 374.42,434.83 375.39,434.83 376.36,434.83 377.33,434.83 378.31,434.83 379.28,434.83 380.25,434.83 381.22,434.83 382.19,434.83 383.17,434.83 384.14,434.83 385.11,434.83 386.08,434.83 387.05,434.83 388.03,434.83 389,434.83 389.97,434.83 390.94,434.83 391.92,434.83 392.89,434.83 393.86,434.83 394.83,434.83 395.8,434.83 396.78,434.83 397.75,434.83 398.72,434.83 399.69,434.83 400.67,434.83 401.64,434.83 402.61,434.83 403.58,434.83 404.55,434.83 405.53,434.83 406.5,434.83 407.47,434.83 408.44,434.83 409.42,434.83 410.39,434.83 411.36,434.83 412.33,434.83 413.3,434.83 414.28,434.83 415.25,434.83 416.22,434.83 417.19,434.83 418.17,434.83 419.14,434.83 420.11,434.83 421.08,434.83 422.05,434.83 423.03,434.83 424,434.83 424.97,434.83 425.94,434.83 426.91,434.83 427.89,434.83 428.86,434.83 429.83,434.83 430.8,434.83 431.78,434.83 432.75,434.83 433.72,434.83 434.69,434.83 435.66,434.83 436.64,434.83 437.61,434.83 438.58,434.83 439.55,434.83 440.53,434.83 441.5,434.83" fill="none" stroke="#d95319" stroke-width="2.0" />
<polyline points="266.5,436.59 267.47,436.59 268.45,436.59 269.42,436.59 270.39,436.59 271.36,436.59 272.34,436.59 273.31,436.59 274.28,436.59 275.25,436.59 276.22,436.59 277.2,436.59 278.17,436.59 279.14,436.59 280.11,436.59 281.09,436.59 282.06,436.59 283.03,436.59 284,436.59 284.97,436.59 285.95,436.59 286.92,436.59 287.89,436.59 288.86,436.59 289.83,436.59 290.81,436.59 291.78,436.59 292.75,436.59 293.72,436.59 294.7,436.59 295.67,436.58 296.64,436.58 297.61,436.58 298.58,436.58 299.56,436.58 300.53,436.58 301.5,436.58 302.47,436.58 303.45,436.58 304.42,436.57 305.39,436.57 306.36,436.57 307.33,436.57 308.31,436.57 309.28,436.56 310.25,436.56 311.22,436.56 312.2,436.56 313.17,436.55 314.14,436.55 315.11,436.55 316.08,436.54 317.06,436.54 318.03,436.53 319,436.53 319.97,436.53 320.95,436.52 321.92,436.51 322.89,436.51 323.86,436.5 324.83,436.49 325.81,436.49 326.78,436.48 327.75,436.47 328.72,436.46 329.69,436.45 330.67,436.44 331.64,436.43 332.61,436.42 333.58,436.41 334.56,436.39 335.53,436.38 336.5,436.37 337.47,436.35 338.44,436.33 339.42,436.32 340.39,436.3 341.36,436.28 342.33,436.26 343.31,436.23 344.28,436.21 345.25,436.18 346.22,436.16 347.19,436.13 348.17,436.1 349.14,436.07 350.11,436.03 351.08,436 352.06,435.96 353.03,435.92 354,435.88 354.97,435.83 355.94,435.79 356.92,435.74 357.89,435.69 358.86,435.63 359.83,435.57 360.81,435.51 361.78,435.45 362.75,435.38 363.72,435.31 364.69,435.24 365.67,435.16 366.64,435.08 367.61,435 368.58,434.91 369.56,434.81 370.53,434.71 371.5,434.61 372.47,434.5 373.44,434.39 374.42,434.27 375.39,434.15 376.36,434.02 377.33,433.88 378.31,433.74 379.28,433.6 380.25,433.44 381.22,433.28 382.19,433.12 383.17,432.94 384.14,432.76 385.11,432.57 386.08,432.37 387.05,432.17 388.03,431.96 389,431.74 389.97,431.51 390.94,431.27 391.92,431.02 392.89,430.76 393.86,430.49 394.83,430.22 395.8,429.93 396.78,429.63 397.75,429.33 398.72,429.01 399.69,428.68 400.67,428.34 401.64,427.98 402.61,427.62 403.58,427.24 404.55,426.85 405.53,426.45 406.5,426.04 407.47,425.61 408.44,425.17 409.42,424.71 410.39,424.25 411.36,423.76 412.33,423.27 413.3,422.76 414.28,422.23 415.25,421.7 416.22,421.14 417.19,420.57 418.17,419.99 419.14,419.39 420.11,418.78 421.08,418.15 422.05,417.5 423.03,416.84 424,416.16 424.97,415.47 425.94,414.76 426.91,414.03 427.89,413.29 428.86,412.54 429.83,411.76 430.8,410.97 431.78,410.17 432.75,409.34 433.72,408.5 434.69,407.65 435.66,406.78 436.64,405.89 437.61,404.99 438.58,404.07 439.55,403.14 440.53,402.19 441.5,401.22" fill="none" stroke="#d95319" stroke-width="2.0" stroke-dasharray="6,4" />
<polyline points="266.5,280.82 267.47,281.04 268.45,281.28 269.42,281.52 270.39,281.78 271.36,282.06 272.34,282.34 273.31,282.64 274.28,282.96 275.25,283.29 276.22,283.64 277.2,284.01 278.17,284.39 279.14,284.79 280.11,285.21 281.09,285.64 282.06,286.1 283.03,286.58 284,287.07 284.97,287.59 285.95,288.13 286.92,288.69 287.89,289.27 288.86,289.87 289.83,290.5 290.81,291.15 291.78,291.82 292.75,292.52 293.72,293.25 294.7,293.99 295.67,294.77 296.64,295.57 297.61,296.39 298.58,297.24 299.56,298.12 300.53,299.02 301.5,299.95 302.47,300.91 303.45,301.89 304.42,302.9 305.39,303.93 306.36,305 307.33,306.09 308.31,307.2 309.28,308.34 310.25,309.51 311.22,310.71 312.2,311.92 313.17,313.17 314.14,314.44 315.11,315.73 316.08,317.05 317.06,318.39 318.03,319.75 319,321.14 319.97,322.55 320.95,323.98 321.92,325.42 322.89,326.89 323.86,328.38 324.83,329.88 325.81,331.4 326.78,332.94 327.75,334.5 328.72,336.06 329.69,337.64 330.67,339.24 331.64,340.84 332.61,342.45 333.58,344.08 334.56,345.71 335.53,347.35 336.5,348.99 337.47,350.64 338.44,352.29 339.42,353.94 340.39,355.6 341.36,357.25 342.33,358.9 343.31,360.55 344.28,362.2 345.25,363.84 346.22,365.48 347.19,367.11 348.17,368.73 349.14,370.34 350.11,371.95 351.08,373.54 352.06,375.11 353.03,376.68 354,378.23 354.97,379.76 355.94,381.28 356.92,382.78 357.89,384.27 358.86,385.73 359.83,387.18 360.81,388.6 361.78,390 362.75,391.39 363.72,392.74 364.69,394.08 365.67,395.39 366.64,396.68 367.61,397.95 368.58,399.19 369.56,400.4 370.53,401.59 371.5,402.75 372.47,403.89 373.44,405 374.42,406.08 375.39,407.14 376.36,408.17 377.33,409.18 378.31,410.16 379.28,411.11 380.25,412.03 381.22,412.93 382.19,413.8 383.17,414.65 384.14,415.47 385.11,416.26 386.08,417.03 387.05,417.77 388.03,418.49 389,419.18 389.97,419.85 390.94,420.5 391.92,421.12 392.89,421.72 393.86,422.3 394.83,422.85 395.8,423.39 396.78,423.9 397.75,424.39 398.72,424.86 399.69,425.32 400.67,425.75 401.64,426.16 402.61,426.56 403.58,426.94 404.55,427.3 405.53,427.65 406.5,427.98 407.47,428.29 408.44,428.59 409.42,428.87 410.39,429.14 411.36,429.4 412.33,429.65 413.3,429.88 414.28,430.1 415.25,430.31 416.22,430.5 417.19,430.69 418.17,430.87 419.14,431.03 420.11,431.19 421.08,431.34 422.05,431.48 423.03,431.61 424,431.74 424.97,431.85 425.94,431.96 426.91,432.07 427.89,432.16 428.86,432.25 429.83,432.34 430.8,432.42 431.78,432.49 432.75,432.56 433.72,432.63 434.69,432.69 435.66,432.75 436.64,432.8 437.61,432.85 438.58,432.9 439.55,432.94 440.53,432.98 441.5,433.02" fill="none" stroke="#0072bd" stroke-width="2.0" />
<polyline points="266.5,429.64 267.47,429.52 268.45,429.39 269.42,429.25 270.39,429.1 271.36,428.94 272.34,428.77 273.31,428.6 274.28,428.41 275.25,428.21 276.22,428.01 277.2,427.79 278.17,427.55 279.14,427.31 280.11,427.05 281.09,426.78 282.06,426.5 283.03,426.2 284,425.89 284.97,425.56 285.95,425.21 286.92,424.85 287.89,424.47 288.86,424.08 289.83,423.67 290.81,423.23 291.78,422.78 292.75,422.31 293.72,421.82 294.7,421.31 295.67,420.78 296.64,420.22 297.61,419.65 298.58,419.05 299.56,418.43 300.53,417.79 301.5,417.12 302.47,416.43 303.45,415.71 304.42,414.97 305.39,414.21 306.36,413.42 307.33,412.6 308.31,411.76 309.28,410.89 310.25,410 311.22,409.08 312.2,408.13 313.17,407.16 314.14,406.16 315.11,405.14 316.08,404.09 317.06,403.01 318.03,401.9 319,400.78 319.97,399.62 320.95,398.44 321.92,397.23 322.89,396 323.86,394.74 324.83,393.46 325.81,392.16 326.78,390.83 327.75,389.48 328.72,388.11 329.69,386.72 330.67,385.31 331.64,383.87 332.61,382.42 333.58,380.95 334.56,379.46 335.53,377.95 336.5,376.43 337.47,374.89 338.44,373.34 339.42,371.78 340.39,370.2 341.36,368.61 342.33,367.02 343.31,365.41 344.28,363.8 345.25,362.17 346.22,360.55 347.19,358.92 348.17,357.28 349.14,355.64 350.11,354.01 351.08,352.37 352.06,350.73 353.03,349.1 354,347.47 354.97,345.84 355.94,344.22 356.92,342.61 357.89,341 358.86,339.41 359.83,337.82 360.81,336.24 361.78,334.68 362.75,333.13 363.72,331.6 364.69,330.08 365.67,328.58 366.64,327.09 367.61,325.62 368.58,324.17 369.56,322.74 370.53,321.33 371.5,319.94 372.47,318.57 373.44,317.22 374.42,315.9 375.39,314.6 376.36,313.32 377.33,312.07 378.31,310.84 379.28,309.64 380.25,308.46 381.22,307.31 382.19,306.19 383.17,305.09 384.14,304.01 385.11,302.96 386.08,301.94 387.05,300.95 388.03,299.98 389,299.04 389.97,298.12 390.94,297.23 391.92,296.37 392.89,295.53 393.86,294.72 394.83,293.93 395.8,293.17 396.78,292.44 397.75,291.72 398.72,291.04 399.69,290.37 400.67,289.73 401.64,289.12 402.61,288.52 403.58,287.95 404.55,287.4 405.53,286.87 406.5,286.36 407.47,285.87 408.44,285.41 409.42,284.96 410.39,284.53 411.36,284.12 412.33,283.73 413.3,283.35 414.28,282.99 415.25,282.65 416.22,282.32 417.19,282.01 418.17,281.72 419.14,281.43 420.11,281.17 421.08,280.91 422.05,280.67 423.03,280.44 424,280.22 424.97,280.01 425.94,279.82 426.91,279.63 427.89,279.46 428.86,279.29 429.83,279.14 430.8,278.99 431.78,278.85 432.75,278.72 433.72,278.6 434.69,278.48 435.66,278.37 436.64,278.27 437.61,278.17 438.58,278.08 439.55,278 440.53,277.92 441.5,277.85" fill="none" stroke="#0072bd" stroke-width="2.0" stroke-dasharray="6,4" />
<line x1="310.25" y1="422.14" x2="310.25" y2="438.2" stroke="#d95319" stroke-width="0.95" opacity="0.85"/>
<line x1="324.83" y1="422.14" x2="324.83" y2="438.2" stroke="#d95319" stroke-width="0.95" opacity="0.85"/>
<line x1="368.58" y1="411.7" x2="368.58" y2="432.58" stroke="#d95319" stroke-width="0.95" opacity="0.85"/>
<line x1="397.75" y1="422.14" x2="397.75" y2="438.2" stroke="#d95319" stroke-width="0.95" opacity="0.85"/>
<line x1="412.33" y1="411.7" x2="412.33" y2="432.58" stroke="#d95319" stroke-width="0.95" opacity="0.85"/>
<line x1="426.91" y1="392.43" x2="426.91" y2="419.73" stroke="#d95319" stroke-width="0.95" opacity="0.85"/>
<line x1="441.5" y1="402.06" x2="441.5" y2="426.15" stroke="#d95319" stroke-width="0.95" opacity="0.85"/>
<polygon points="266.5,433.7 270.9,441.4 262.1,441.4" fill="#d95319" stroke="none" stroke-width="1" />
<polygon points="281.09,433.7 285.49,441.4 276.69,441.4" fill="#d95319" stroke="none" stroke-width="1" />
<polygon points="295.67,433.7 300.07,441.4 291.27,441.4" fill="#d95319" stroke="none" stroke-width="1" />
<polygon points="310.25,425.67 314.65,433.37 305.85,433.37" fill="#d95319" stroke="none" stroke-width="1" />
<polygon points="324.83,425.67 329.23,433.37 320.43,433.37" fill="#d95319" stroke="none" stroke-width="1" />
<polygon points="339.42,433.7 343.82,441.4 335.02,441.4" fill="#d95319" stroke="none" stroke-width="1" />
<polygon points="354,433.7 358.4,441.4 349.6,441.4" fill="#d95319" stroke="none" stroke-width="1" />
<polygon points="368.58,417.64 372.98,425.34 364.18,425.34" fill="#d95319" stroke="none" stroke-width="1" />
<polygon points="383.17,433.7 387.57,441.4 378.77,441.4" fill="#d95319" stroke="none" stroke-width="1" />
<polygon points="397.75,425.67 402.15,433.37 393.35,433.37" fill="#d95319" stroke="none" stroke-width="1" />
<polygon points="412.33,417.64 416.73,425.34 407.93,425.34" fill="#d95319" stroke="none" stroke-width="1" />
<polygon points="426.91,401.58 431.31,409.28 422.51,409.28" fill="#d95319" stroke="none" stroke-width="1" />
<polygon points="441.5,409.61 445.9,417.31 437.1,417.31" fill="#d95319" stroke="none" stroke-width="1" />
<line x1="281.09" y1="402.06" x2="281.09" y2="426.15" stroke="#d95319" stroke-width="0.95" opacity="0.85"/>
<line x1="295.67" y1="411.7" x2="295.67" y2="432.58" stroke="#d95319" stroke-width="0.95" opacity="0.85"/>
<circle cx="266.5" cy="438.2" r="3.4" fill="#fff" stroke="#d95319" stroke-width="1.0" />
<circle cx="281.09" cy="414.11" r="3.4" fill="#fff" stroke="#d95319" stroke-width="1.0" />
<circle cx="295.67" cy="422.14" r="3.4" fill="#fff" stroke="#d95319" stroke-width="1.0" />
<circle cx="310.25" cy="438.2" r="3.4" fill="#fff" stroke="#d95319" stroke-width="1.0" />
<circle cx="324.83" cy="438.2" r="3.4" fill="#fff" stroke="#d95319" stroke-width="1.0" />
<circle cx="339.42" cy="438.2" r="3.4" fill="#fff" stroke="#d95319" stroke-width="1.0" />
<circle cx="354" cy="438.2" r="3.4" fill="#fff" stroke="#d95319" stroke-width="1.0" />
<circle cx="368.58" cy="438.2" r="3.4" fill="#fff" stroke="#d95319" stroke-width="1.0" />
<circle cx="383.17" cy="438.2" r="3.4" fill="#fff" stroke="#d95319" stroke-width="1.0" />
<circle cx="397.75" cy="438.2" r="3.4" fill="#fff" stroke="#d95319" stroke-width="1.0" />
<circle cx="412.33" cy="438.2" r="3.4" fill="#fff" stroke="#d95319" stroke-width="1.0" />
<circle cx="426.91" cy="438.2" r="3.4" fill="#fff" stroke="#d95319" stroke-width="1.0" />
<circle cx="441.5" cy="438.2" r="3.4" fill="#fff" stroke="#d95319" stroke-width="1.0" />
<line x1="266.5" y1="411.7" x2="266.5" y2="432.58" stroke="#0072bd" stroke-width="0.95" opacity="0.85"/>
<line x1="281.09" y1="411.7" x2="281.09" y2="432.58" stroke="#0072bd" stroke-width="0.95" opacity="0.85"/>
<line x1="310.25" y1="365.13" x2="310.25" y2="398.85" stroke="#0072bd" stroke-width="0.95" opacity="0.85"/>
<line x1="324.83" y1="402.39" x2="324.83" y2="425.83" stroke="#0072bd" stroke-width="0.95" opacity="0.85"/>
<line x1="339.42" y1="365.13" x2="339.42" y2="398.85" stroke="#0072bd" stroke-width="0.95" opacity="0.85"/>
<line x1="354" y1="327.39" x2="354" y2="356.29" stroke="#0072bd" stroke-width="0.95" opacity="0.85"/>
<line x1="368.58" y1="303.3" x2="368.58" y2="332.2" stroke="#0072bd" stroke-width="0.95" opacity="0.85"/>
<line x1="383.17" y1="277.6" x2="383.17" y2="293.66" stroke="#0072bd" stroke-width="0.95" opacity="0.85"/>
<line x1="397.75" y1="288.84" x2="397.75" y2="314.54" stroke="#0072bd" stroke-width="0.95" opacity="0.85"/>
<line x1="412.33" y1="282.74" x2="412.33" y2="304.58" stroke="#0072bd" stroke-width="0.95" opacity="0.85"/>
<polygon points="266.5,417.64 270.9,425.34 262.1,425.34" fill="#0072bd" stroke="none" stroke-width="1" />
<polygon points="281.09,417.64 285.49,425.34 276.69,425.34" fill="#0072bd" stroke="none" stroke-width="1" />
<polygon points="295.67,433.7 300.07,441.4 291.27,441.4" fill="#0072bd" stroke="none" stroke-width="1" />
<polygon points="310.25,377.49 314.65,385.19 305.85,385.19" fill="#0072bd" stroke="none" stroke-width="1" />
<polygon points="324.83,409.61 329.23,417.31 320.43,417.31" fill="#0072bd" stroke="none" stroke-width="1" />
<polygon points="339.42,377.49 343.82,385.19 335.02,385.19" fill="#0072bd" stroke="none" stroke-width="1" />
<polygon points="354,337.34 358.4,345.04 349.6,345.04" fill="#0072bd" stroke="none" stroke-width="1" />
<polygon points="368.58,313.25 372.98,320.95 364.18,320.95" fill="#0072bd" stroke="none" stroke-width="1" />
<polygon points="383.17,281.13 387.57,288.83 378.77,288.83" fill="#0072bd" stroke="none" stroke-width="1" />
<polygon points="397.75,297.19 402.15,304.89 393.35,304.89" fill="#0072bd" stroke="none" stroke-width="1" />
<polygon points="412.33,289.16 416.73,296.86 407.93,296.86" fill="#0072bd" stroke="none" stroke-width="1" />
<polygon points="426.91,273.1 431.31,280.8 422.51,280.8" fill="#0072bd" stroke="none" stroke-width="1" />
<polygon points="441.5,273.1 445.9,280.8 437.1,280.8" fill="#0072bd" stroke="none" stroke-width="1" />
<line x1="295.67" y1="309.72" x2="295.67" y2="341.84" stroke="#0072bd" stroke-width="0.95" opacity="0.85"/>
<line x1="310.25" y1="309.72" x2="310.25" y2="341.84" stroke="#0072bd" stroke-width="0.95" opacity="0.85"/>
<line x1="324.83" y1="295.27" x2="324.83" y2="324.17" stroke="#0072bd" stroke-width="0.95" opacity="0.85"/>
<line x1="339.42" y1="301.69" x2="339.42" y2="333.81" stroke="#0072bd" stroke-width="0.95" opacity="0.85"/>
<line x1="354" y1="353.08" x2="354" y2="378.78" stroke="#0072bd" stroke-width="0.95" opacity="0.85"/>
<line x1="368.58" y1="402.39" x2="368.58" y2="425.83" stroke="#0072bd" stroke-width="0.95" opacity="0.85"/>
<line x1="397.75" y1="402.39" x2="397.75" y2="425.83" stroke="#0072bd" stroke-width="0.95" opacity="0.85"/>
<line x1="412.33" y1="422.14" x2="412.33" y2="438.2" stroke="#0072bd" stroke-width="0.95" opacity="0.85"/>
<line x1="426.91" y1="422.14" x2="426.91" y2="438.2" stroke="#0072bd" stroke-width="0.95" opacity="0.85"/>
<line x1="441.5" y1="422.14" x2="441.5" y2="438.2" stroke="#0072bd" stroke-width="0.95" opacity="0.85"/>
<circle cx="266.5" cy="277.6" r="3.4" fill="#fff" stroke="#0072bd" stroke-width="1.0" />
<circle cx="281.09" cy="277.6" r="3.4" fill="#fff" stroke="#0072bd" stroke-width="1.0" />
<circle cx="295.67" cy="325.78" r="3.4" fill="#fff" stroke="#0072bd" stroke-width="1.0" />
<circle cx="310.25" cy="325.78" r="3.4" fill="#fff" stroke="#0072bd" stroke-width="1.0" />
<circle cx="324.83" cy="309.72" r="3.4" fill="#fff" stroke="#0072bd" stroke-width="1.0" />
<circle cx="339.42" cy="317.75" r="3.4" fill="#fff" stroke="#0072bd" stroke-width="1.0" />
<circle cx="354" cy="365.93" r="3.4" fill="#fff" stroke="#0072bd" stroke-width="1.0" />
<circle cx="368.58" cy="414.11" r="3.4" fill="#fff" stroke="#0072bd" stroke-width="1.0" />
<circle cx="383.17" cy="438.2" r="3.4" fill="#fff" stroke="#0072bd" stroke-width="1.0" />
<circle cx="397.75" cy="414.11" r="3.4" fill="#fff" stroke="#0072bd" stroke-width="1.0" />
<circle cx="412.33" cy="430.17" r="3.4" fill="#fff" stroke="#0072bd" stroke-width="1.0" />
<circle cx="426.91" cy="430.17" r="3.4" fill="#fff" stroke="#0072bd" stroke-width="1.0" />
<circle cx="441.5" cy="430.17" r="3.4" fill="#fff" stroke="#0072bd" stroke-width="1.0" />
<line x1="500.2" y1="439.3" x2="675.79" y2="439.3" stroke="#a0a0a0" stroke-width="1.2" />
<line x1="500.2" y1="276.9" x2="500.2" y2="439.3" stroke="#a8a8a8" stroke-width="1.2" />
<line x1="498" y1="406.18" x2="500.2" y2="406.18" stroke="#a8a8a8" stroke-width="1" />
<line x1="498" y1="374.06" x2="500.2" y2="374.06" stroke="#a8a8a8" stroke-width="1" />
<line x1="498" y1="341.94" x2="500.2" y2="341.94" stroke="#a8a8a8" stroke-width="1" />
<line x1="498" y1="309.82" x2="500.2" y2="309.82" stroke="#a8a8a8" stroke-width="1" />
<line x1="498" y1="277.7" x2="500.2" y2="277.7" stroke="#a8a8a8" stroke-width="1" />
<line x1="501.2" y1="358.5" x2="675.79" y2="358.5" stroke="#111" stroke-width="1.0" stroke-dasharray="3.6,3.6" />
<polyline points="500.2,436.37 501.18,436.37 502.16,436.37 503.13,436.37 504.11,436.37 505.08,436.37 506.06,436.37 507.03,436.37 508.01,436.37 508.98,436.37 509.96,436.37 510.94,436.37 511.91,436.37 512.89,436.37 513.86,436.37 514.84,436.37 515.81,436.37 516.79,436.37 517.76,436.37 518.74,436.37 519.72,436.37 520.69,436.37 521.67,436.37 522.64,436.37 523.62,436.37 524.59,436.37 525.57,436.37 526.54,436.37 527.52,436.37 528.49,436.37 529.47,436.37 530.45,436.37 531.42,436.37 532.4,436.37 533.37,436.37 534.35,436.37 535.32,436.37 536.3,436.37 537.27,436.37 538.25,436.37 539.23,436.37 540.2,436.37 541.18,436.37 542.15,436.37 543.13,436.37 544.1,436.37 545.08,436.37 546.05,436.37 547.03,436.37 548,436.37 548.98,436.37 549.96,436.37 550.93,436.37 551.91,436.37 552.88,436.37 553.86,436.37 554.83,436.37 555.81,436.37 556.78,436.37 557.76,436.37 558.74,436.37 559.71,436.37 560.69,436.37 561.66,436.37 562.64,436.37 563.61,436.37 564.59,436.37 565.56,436.37 566.54,436.37 567.51,436.37 568.49,436.37 569.47,436.37 570.44,436.37 571.42,436.37 572.39,436.37 573.37,436.37 574.34,436.37 575.32,436.37 576.29,436.37 577.27,436.37 578.25,436.37 579.22,436.37 580.2,436.37 581.17,436.37 582.15,436.37 583.12,436.37 584.1,436.37 585.07,436.37 586.05,436.37 587.02,436.37 588,436.37 588.98,436.37 589.95,436.37 590.93,436.37 591.9,436.37 592.88,436.37 593.85,436.37 594.83,436.37 595.8,436.37 596.78,436.37 597.75,436.37 598.73,436.37 599.71,436.37 600.68,436.37 601.66,436.37 602.63,436.37 603.61,436.37 604.58,436.37 605.56,436.37 606.53,436.37 607.51,436.37 608.49,436.37 609.46,436.37 610.44,436.37 611.41,436.37 612.39,436.37 613.36,436.37 614.34,436.37 615.31,436.37 616.29,436.37 617.26,436.37 618.24,436.37 619.22,436.37 620.19,436.37 621.17,436.37 622.14,436.37 623.12,436.37 624.09,436.37 625.07,436.37 626.04,436.37 627.02,436.37 628,436.37 628.97,436.37 629.95,436.37 630.92,436.37 631.9,436.37 632.87,436.37 633.85,436.37 634.82,436.37 635.8,436.37 636.77,436.37 637.75,436.37 638.73,436.37 639.7,436.37 640.68,436.37 641.65,436.37 642.63,436.37 643.6,436.37 644.58,436.37 645.55,436.37 646.53,436.37 647.51,436.37 648.48,436.37 649.46,436.37 650.43,436.37 651.41,436.37 652.38,436.37 653.36,436.37 654.33,436.37 655.31,436.37 656.28,436.37 657.26,436.37 658.24,436.37 659.21,436.37 660.19,436.37 661.16,436.37 662.14,436.37 663.11,436.37 664.09,436.37 665.06,436.37 666.04,436.37 667.02,436.37 667.99,436.37 668.97,436.37 669.94,436.37 670.92,436.37 671.89,436.37 672.87,436.37 673.84,436.37 674.82,436.37 675.79,436.37" fill="none" stroke="#d95319" stroke-width="2.0" />
<polyline points="500.2,437.02 501.18,437.02 502.16,437.02 503.13,437.02 504.11,437.02 505.08,437.02 506.06,437.02 507.03,437.02 508.01,437.02 508.98,437.02 509.96,437.02 510.94,437.02 511.91,437.02 512.89,437.02 513.86,437.02 514.84,437.02 515.81,437.02 516.79,437.02 517.76,437.02 518.74,437.02 519.72,437.02 520.69,437.02 521.67,437.02 522.64,437.02 523.62,437.02 524.59,437.02 525.57,437.02 526.54,437.02 527.52,437.02 528.49,437.02 529.47,437.02 530.45,437.02 531.42,437.02 532.4,437.02 533.37,437.02 534.35,437.02 535.32,437.02 536.3,437.02 537.27,437.02 538.25,437.02 539.23,437.02 540.2,437.02 541.18,437.02 542.15,437.02 543.13,437.02 544.1,437.02 545.08,437.02 546.05,437.02 547.03,437.02 548,437.02 548.98,437.02 549.96,437.02 550.93,437.02 551.91,437.02 552.88,437.02 553.86,437.02 554.83,437.02 555.81,437.02 556.78,437.02 557.76,437.02 558.74,437.02 559.71,437.02 560.69,437.02 561.66,437.02 562.64,437.02 563.61,437.02 564.59,437.02 565.56,437.02 566.54,437.02 567.51,437.02 568.49,437.02 569.47,437.02 570.44,437.02 571.42,437.02 572.39,437.02 573.37,437.02 574.34,437.02 575.32,437.02 576.29,437.02 577.27,437.02 578.25,437.02 579.22,437.02 580.2,437.02 581.17,437.02 582.15,437.02 583.12,437.02 584.1,437.02 585.07,437.02 586.05,437.02 587.02,437.02 588,437.02 588.98,437.02 589.95,437.02 590.93,437.02 591.9,437.02 592.88,437.02 593.85,437.02 594.83,437.02 595.8,437.02 596.78,437.02 597.75,437.02 598.73,437.02 599.71,437.02 600.68,437.02 601.66,437.02 602.63,437.02 603.61,437.02 604.58,437.02 605.56,437.02 606.53,437.02 607.51,437.02 608.49,437.02 609.46,437.02 610.44,437.02 611.41,437.02 612.39,437.02 613.36,437.02 614.34,437.02 615.31,437.02 616.29,437.02 617.26,437.02 618.24,437.02 619.22,437.02 620.19,437.02 621.17,437.02 622.14,437.02 623.12,437.02 624.09,437.02 625.07,437.02 626.04,437.02 627.02,437.02 628,437.02 628.97,437.02 629.95,437.02 630.92,437.02 631.9,437.02 632.87,437.02 633.85,437.02 634.82,437.02 635.8,437.02 636.77,437.02 637.75,437.02 638.73,437.02 639.7,437.02 640.68,437.02 641.65,437.02 642.63,437.02 643.6,437.02 644.58,437.02 645.55,437.02 646.53,437.02 647.51,437.02 648.48,437.02 649.46,437.02 650.43,437.02 651.41,437.02 652.38,437.02 653.36,437.02 654.33,437.02 655.31,437.02 656.28,437.02 657.26,437.02 658.24,437.02 659.21,437.02 660.19,437.02 661.16,437.02 662.14,437.02 663.11,437.02 664.09,437.02 665.06,437.02 666.04,437.02 667.02,437.02 667.99,437.02 668.97,437.02 669.94,437.02 670.92,437.02 671.89,437.02 672.87,437.02 673.84,437.02 674.82,437.02 675.79,437.02" fill="none" stroke="#d95319" stroke-width="2.0" stroke-dasharray="6,4" />
<polyline points="500.2,282.81 501.18,282.85 502.16,282.9 503.13,282.95 504.11,283 505.08,283.05 506.06,283.11 507.03,283.17 508.01,283.24 508.98,283.31 509.96,283.39 510.94,283.47 511.91,283.56 512.89,283.65 513.86,283.76 514.84,283.86 515.81,283.98 516.79,284.1 517.76,284.23 518.74,284.36 519.72,284.51 520.69,284.67 521.67,284.83 522.64,285 523.62,285.19 524.59,285.38 525.57,285.59 526.54,285.81 527.52,286.04 528.49,286.28 529.47,286.54 530.45,286.81 531.42,287.09 532.4,287.39 533.37,287.71 534.35,288.04 535.32,288.39 536.3,288.75 537.27,289.13 538.25,289.53 539.23,289.95 540.2,290.39 541.18,290.84 542.15,291.32 543.13,291.82 544.1,292.34 545.08,292.88 546.05,293.45 547.03,294.03 548,294.64 548.98,295.28 549.96,295.93 550.93,296.62 551.91,297.33 552.88,298.06 553.86,298.82 554.83,299.6 555.81,300.42 556.78,301.25 557.76,302.12 558.74,303.01 559.71,303.93 560.69,304.88 561.66,305.86 562.64,306.86 563.61,307.89 564.59,308.95 565.56,310.03 566.54,311.15 567.51,312.29 568.49,313.45 569.47,314.65 570.44,315.87 571.42,317.12 572.39,318.39 573.37,319.69 574.34,321.02 575.32,322.36 576.29,323.74 577.27,325.13 578.25,326.55 579.22,327.99 580.2,329.46 581.17,330.94 582.15,332.44 583.12,333.96 584.1,335.5 585.07,337.06 586.05,338.63 587.02,340.22 588,341.82 588.98,343.44 589.95,345.07 590.93,346.71 591.9,348.35 592.88,350.01 593.85,351.67 594.83,353.34 595.8,355.02 596.78,356.69 597.75,358.38 598.73,360.06 599.71,361.74 600.68,363.42 601.66,365.1 602.63,366.77 603.61,368.44 604.58,370.1 605.56,371.76 606.53,373.41 607.51,375.05 608.49,376.67 609.46,378.29 610.44,379.89 611.41,381.48 612.39,383.05 613.36,384.61 614.34,386.14 615.31,387.67 616.29,389.17 617.26,390.65 618.24,392.11 619.22,393.55 620.19,394.97 621.17,396.37 622.14,397.74 623.12,399.09 624.09,400.41 625.07,401.71 626.04,402.98 627.02,404.23 628,405.45 628.97,406.64 629.95,407.81 630.92,408.95 631.9,410.06 632.87,411.15 633.85,412.21 634.82,413.24 635.8,414.24 636.77,415.21 637.75,416.16 638.73,417.08 639.7,417.97 640.68,418.83 641.65,419.67 642.63,420.48 643.6,421.27 644.58,422.03 645.55,422.76 646.53,423.47 647.51,424.15 648.48,424.81 649.46,425.44 650.43,426.05 651.41,426.63 652.38,427.2 653.36,427.74 654.33,428.26 655.31,428.76 656.28,429.23 657.26,429.69 658.24,430.13 659.21,430.54 660.19,430.94 661.16,431.32 662.14,431.69 663.11,432.03 664.09,432.36 665.06,432.68 666.04,432.98 667.02,433.26 667.99,433.53 668.97,433.79 669.94,434.03 670.92,434.26 671.89,434.48 672.87,434.68 673.84,434.88 674.82,435.06 675.79,435.24" fill="none" stroke="#0072bd" stroke-width="2.0" />
<polyline points="500.2,425.87 501.18,425.8 502.16,425.72 503.13,425.64 504.11,425.56 505.08,425.46 506.06,425.36 507.03,425.26 508.01,425.14 508.98,425.02 509.96,424.89 510.94,424.75 511.91,424.61 512.89,424.45 513.86,424.28 514.84,424.1 515.81,423.92 516.79,423.72 517.76,423.5 518.74,423.28 519.72,423.04 520.69,422.79 521.67,422.52 522.64,422.24 523.62,421.95 524.59,421.63 525.57,421.3 526.54,420.96 527.52,420.59 528.49,420.21 529.47,419.81 530.45,419.39 531.42,418.94 532.4,418.48 533.37,418 534.35,417.49 535.32,416.96 536.3,416.4 537.27,415.83 538.25,415.23 539.23,414.6 540.2,413.95 541.18,413.27 542.15,412.57 543.13,411.83 544.1,411.08 545.08,410.29 546.05,409.48 547.03,408.63 548,407.76 548.98,406.86 549.96,405.94 550.93,404.98 551.91,403.99 552.88,402.98 553.86,401.93 554.83,400.86 555.81,399.75 556.78,398.62 557.76,397.46 558.74,396.27 559.71,395.05 560.69,393.81 561.66,392.53 562.64,391.23 563.61,389.9 564.59,388.55 565.56,387.17 566.54,385.77 567.51,384.34 568.49,382.89 569.47,381.42 570.44,379.92 571.42,378.4 572.39,376.87 573.37,375.32 574.34,373.74 575.32,372.16 576.29,370.55 577.27,368.93 578.25,367.3 579.22,365.66 580.2,364.01 581.17,362.35 582.15,360.68 583.12,359 584.1,357.32 585.07,355.63 586.05,353.94 587.02,352.25 588,350.56 588.98,348.88 589.95,347.19 590.93,345.51 591.9,343.84 592.88,342.17 593.85,340.51 594.83,338.86 595.8,337.22 596.78,335.6 597.75,333.98 598.73,332.39 599.71,330.8 600.68,329.24 601.66,327.69 602.63,326.16 603.61,324.65 604.58,323.17 605.56,321.7 606.53,320.26 607.51,318.84 608.49,317.45 609.46,316.08 610.44,314.73 611.41,313.41 612.39,312.12 613.36,310.86 614.34,309.62 615.31,308.42 616.29,307.24 617.26,306.09 618.24,304.97 619.22,303.87 620.19,302.81 621.17,301.77 622.14,300.77 623.12,299.79 624.09,298.85 625.07,297.93 626.04,297.04 627.02,296.18 628,295.35 628.97,294.55 629.95,293.77 630.92,293.02 631.9,292.3 632.87,291.61 633.85,290.94 634.82,290.3 635.8,289.68 636.77,289.09 637.75,288.52 638.73,287.97 639.7,287.45 640.68,286.95 641.65,286.48 642.63,286.02 643.6,285.59 644.58,285.17 645.55,284.78 646.53,284.4 647.51,284.04 648.48,283.7 649.46,283.38 650.43,283.07 651.41,282.78 652.38,282.51 653.36,282.25 654.33,282 655.31,281.77 656.28,281.55 657.26,281.34 658.24,281.14 659.21,280.96 660.19,280.79 661.16,280.62 662.14,280.47 663.11,280.33 664.09,280.19 665.06,280.06 666.04,279.95 667.02,279.83 667.99,279.73 668.97,279.63 669.94,279.54 670.92,279.46 671.89,279.38 672.87,279.31 673.84,279.24 674.82,279.17 675.79,279.12" fill="none" stroke="#0072bd" stroke-width="2.0" stroke-dasharray="6,4" />
<line x1="573.37" y1="422.24" x2="573.37" y2="438.3" stroke="#d95319" stroke-width="0.95" opacity="0.85"/>
<line x1="588" y1="422.24" x2="588" y2="438.3" stroke="#d95319" stroke-width="0.95" opacity="0.85"/>
<polygon points="500.2,433.8 504.6,441.5 495.81,441.5" fill="#d95319" stroke="none" stroke-width="1" />
<polygon points="514.84,433.8 519.24,441.5 510.44,441.5" fill="#d95319" stroke="none" stroke-width="1" />
<polygon points="529.47,433.8 533.87,441.5 525.07,441.5" fill="#d95319" stroke="none" stroke-width="1" />
<polygon points="544.1,433.8 548.5,441.5 539.7,441.5" fill="#d95319" stroke="none" stroke-width="1" />
<polygon points="558.74,433.8 563.13,441.5 554.34,441.5" fill="#d95319" stroke="none" stroke-width="1" />
<polygon points="573.37,425.77 577.77,433.47 568.97,433.47" fill="#d95319" stroke="none" stroke-width="1" />
<polygon points="588,425.77 592.4,433.47 583.6,433.47" fill="#d95319" stroke="none" stroke-width="1" />
<polygon points="602.63,433.8 607.03,441.5 598.23,441.5" fill="#d95319" stroke="none" stroke-width="1" />
<polygon points="617.26,433.8 621.66,441.5 612.87,441.5" fill="#d95319" stroke="none" stroke-width="1" />
<polygon points="631.9,433.8 636.3,441.5 627.5,441.5" fill="#d95319" stroke="none" stroke-width="1" />
<polygon points="646.53,433.8 650.93,441.5 642.13,441.5" fill="#d95319" stroke="none" stroke-width="1" />
<polygon points="661.16,433.8 665.56,441.5 656.76,441.5" fill="#d95319" stroke="none" stroke-width="1" />
<polygon points="675.79,433.8 680.19,441.5 671.39,441.5" fill="#d95319" stroke="none" stroke-width="1" />
<line x1="558.74" y1="422.24" x2="558.74" y2="438.3" stroke="#d95319" stroke-width="0.95" opacity="0.85"/>
<line x1="602.63" y1="411.8" x2="602.63" y2="432.68" stroke="#d95319" stroke-width="0.95" opacity="0.85"/>
<line x1="631.9" y1="422.24" x2="631.9" y2="438.3" stroke="#d95319" stroke-width="0.95" opacity="0.85"/>
<circle cx="500.2" cy="438.3" r="3.4" fill="#fff" stroke="#d95319" stroke-width="1.0" />
<circle cx="514.84" cy="438.3" r="3.4" fill="#fff" stroke="#d95319" stroke-width="1.0" />
<circle cx="529.47" cy="438.3" r="3.4" fill="#fff" stroke="#d95319" stroke-width="1.0" />
<circle cx="544.1" cy="438.3" r="3.4" fill="#fff" stroke="#d95319" stroke-width="1.0" />
<circle cx="558.74" cy="430.27" r="3.4" fill="#fff" stroke="#d95319" stroke-width="1.0" />
<circle cx="573.37" cy="438.3" r="3.4" fill="#fff" stroke="#d95319" stroke-width="1.0" />
<circle cx="588" cy="438.3" r="3.4" fill="#fff" stroke="#d95319" stroke-width="1.0" />
<circle cx="602.63" cy="422.24" r="3.4" fill="#fff" stroke="#d95319" stroke-width="1.0" />
<circle cx="617.26" cy="438.3" r="3.4" fill="#fff" stroke="#d95319" stroke-width="1.0" />
<circle cx="631.9" cy="430.27" r="3.4" fill="#fff" stroke="#d95319" stroke-width="1.0" />
<circle cx="646.53" cy="438.3" r="3.4" fill="#fff" stroke="#d95319" stroke-width="1.0" />
<circle cx="661.16" cy="438.3" r="3.4" fill="#fff" stroke="#d95319" stroke-width="1.0" />
<circle cx="675.79" cy="438.3" r="3.4" fill="#fff" stroke="#d95319" stroke-width="1.0" />
<line x1="500.2" y1="402.17" x2="500.2" y2="426.25" stroke="#0072bd" stroke-width="0.95" opacity="0.85"/>
<line x1="514.84" y1="411.8" x2="514.84" y2="432.68" stroke="#0072bd" stroke-width="0.95" opacity="0.85"/>
<line x1="529.47" y1="422.24" x2="529.47" y2="438.3" stroke="#0072bd" stroke-width="0.95" opacity="0.85"/>
<line x1="544.1" y1="401.36" x2="544.1" y2="427.06" stroke="#0072bd" stroke-width="0.95" opacity="0.85"/>
<line x1="558.74" y1="365.23" x2="558.74" y2="398.95" stroke="#0072bd" stroke-width="0.95" opacity="0.85"/>
<line x1="573.37" y1="348.36" x2="573.37" y2="383.7" stroke="#0072bd" stroke-width="0.95" opacity="0.85"/>
<line x1="588" y1="340.33" x2="588" y2="375.67" stroke="#0072bd" stroke-width="0.95" opacity="0.85"/>
<line x1="602.63" y1="316.24" x2="602.63" y2="351.58" stroke="#0072bd" stroke-width="0.95" opacity="0.85"/>
<line x1="617.26" y1="283.32" x2="617.26" y2="304.2" stroke="#0072bd" stroke-width="0.95" opacity="0.85"/>
<line x1="631.9" y1="288.94" x2="631.9" y2="314.64" stroke="#0072bd" stroke-width="0.95" opacity="0.85"/>
<line x1="646.53" y1="277.7" x2="646.53" y2="293.76" stroke="#0072bd" stroke-width="0.95" opacity="0.85"/>
<polygon points="500.2,409.71 504.6,417.41 495.81,417.41" fill="#0072bd" stroke="none" stroke-width="1" />
<polygon points="514.84,417.74 519.24,425.44 510.44,425.44" fill="#0072bd" stroke="none" stroke-width="1" />
<polygon points="529.47,425.77 533.87,433.47 525.07,433.47" fill="#0072bd" stroke="none" stroke-width="1" />
<polygon points="544.1,409.71 548.5,417.41 539.7,417.41" fill="#0072bd" stroke="none" stroke-width="1" />
<polygon points="558.74,377.59 563.13,385.29 554.34,385.29" fill="#0072bd" stroke="none" stroke-width="1" />
<polygon points="573.37,361.53 577.77,369.23 568.97,369.23" fill="#0072bd" stroke="none" stroke-width="1" />
<polygon points="588,353.5 592.4,361.2 583.6,361.2" fill="#0072bd" stroke="none" stroke-width="1" />
<polygon points="602.63,329.41 607.03,337.11 598.23,337.11" fill="#0072bd" stroke="none" stroke-width="1" />
<polygon points="617.26,289.26 621.66,296.96 612.87,296.96" fill="#0072bd" stroke="none" stroke-width="1" />
<polygon points="631.9,297.29 636.3,304.99 627.5,304.99" fill="#0072bd" stroke="none" stroke-width="1" />
<polygon points="646.53,281.23 650.93,288.93 642.13,288.93" fill="#0072bd" stroke="none" stroke-width="1" />
<polygon points="661.16,273.2 665.56,280.9 656.76,280.9" fill="#0072bd" stroke="none" stroke-width="1" />
<polygon points="675.79,273.2 680.19,280.9 671.39,280.9" fill="#0072bd" stroke="none" stroke-width="1" />
<line x1="500.2" y1="277.7" x2="500.2" y2="293.76" stroke="#0072bd" stroke-width="0.95" opacity="0.85"/>
<line x1="514.84" y1="277.7" x2="514.84" y2="293.76" stroke="#0072bd" stroke-width="0.95" opacity="0.85"/>
<line x1="529.47" y1="277.7" x2="529.47" y2="293.76" stroke="#0072bd" stroke-width="0.95" opacity="0.85"/>
<line x1="544.1" y1="282.52" x2="544.1" y2="305" stroke="#0072bd" stroke-width="0.95" opacity="0.85"/>
<line x1="558.74" y1="288.94" x2="558.74" y2="314.64" stroke="#0072bd" stroke-width="0.95" opacity="0.85"/>
<line x1="573.37" y1="301.79" x2="573.37" y2="333.91" stroke="#0072bd" stroke-width="0.95" opacity="0.85"/>
<line x1="588" y1="324.27" x2="588" y2="359.61" stroke="#0072bd" stroke-width="0.95" opacity="0.85"/>
<line x1="602.63" y1="356.39" x2="602.63" y2="391.73" stroke="#0072bd" stroke-width="0.95" opacity="0.85"/>
<line x1="617.26" y1="374.06" x2="617.26" y2="406.18" stroke="#0072bd" stroke-width="0.95" opacity="0.85"/>
<line x1="631.9" y1="391.73" x2="631.9" y2="420.63" stroke="#0072bd" stroke-width="0.95" opacity="0.85"/>
<line x1="646.53" y1="411.8" x2="646.53" y2="432.68" stroke="#0072bd" stroke-width="0.95" opacity="0.85"/>
<line x1="661.16" y1="422.24" x2="661.16" y2="438.3" stroke="#0072bd" stroke-width="0.95" opacity="0.85"/>
<circle cx="500.2" cy="285.73" r="3.4" fill="#fff" stroke="#0072bd" stroke-width="1.0" />
<circle cx="514.84" cy="285.73" r="3.4" fill="#fff" stroke="#0072bd" stroke-width="1.0" />
<circle cx="529.47" cy="285.73" r="3.4" fill="#fff" stroke="#0072bd" stroke-width="1.0" />
<circle cx="544.1" cy="293.76" r="3.4" fill="#fff" stroke="#0072bd" stroke-width="1.0" />
<circle cx="558.74" cy="301.79" r="3.4" fill="#fff" stroke="#0072bd" stroke-width="1.0" />
<circle cx="573.37" cy="317.85" r="3.4" fill="#fff" stroke="#0072bd" stroke-width="1.0" />
<circle cx="588" cy="341.94" r="3.4" fill="#fff" stroke="#0072bd" stroke-width="1.0" />
<circle cx="602.63" cy="374.06" r="3.4" fill="#fff" stroke="#0072bd" stroke-width="1.0" />
<circle cx="617.26" cy="390.12" r="3.4" fill="#fff" stroke="#0072bd" stroke-width="1.0" />
<circle cx="631.9" cy="406.18" r="3.4" fill="#fff" stroke="#0072bd" stroke-width="1.0" />
<circle cx="646.53" cy="422.24" r="3.4" fill="#fff" stroke="#0072bd" stroke-width="1.0" />
<circle cx="661.16" cy="430.27" r="3.4" fill="#fff" stroke="#0072bd" stroke-width="1.0" />
<circle cx="675.79" cy="438.3" r="3.4" fill="#fff" stroke="#0072bd" stroke-width="1.0" />
<text x="260.1" y="282.2" font-size="14" fill="#222" stroke="#222" stroke-width="0.12" text-anchor="end" >1</text>
<text x="494.1" y="282.3" font-size="14" fill="#222" stroke="#222" stroke-width="0.12" text-anchor="end" >1</text>
<text x="260.1" y="314.32" font-size="14" fill="#222" stroke="#222" stroke-width="0.12" text-anchor="end" >0.8</text>
<text x="494.1" y="314.42" font-size="14" fill="#222" stroke="#222" stroke-width="0.12" text-anchor="end" >0.8</text>
<text x="260.1" y="346.44" font-size="14" fill="#222" stroke="#222" stroke-width="0.12" text-anchor="end" >0.6</text>
<text x="494.1" y="346.54" font-size="14" fill="#222" stroke="#222" stroke-width="0.12" text-anchor="end" >0.6</text>
<text x="260.1" y="378.56" font-size="14" fill="#222" stroke="#222" stroke-width="0.12" text-anchor="end" >0.4</text>
<text x="494.1" y="378.66" font-size="14" fill="#222" stroke="#222" stroke-width="0.12" text-anchor="end" >0.4</text>
<text x="260.1" y="410.68" font-size="14" fill="#222" stroke="#222" stroke-width="0.12" text-anchor="end" >0.2</text>
<text x="494.1" y="410.78" font-size="14" fill="#222" stroke="#222" stroke-width="0.12" text-anchor="end" >0.2</text>
<text x="260.1" y="442.8" font-size="14" fill="#222" stroke="#222" stroke-width="0.12" text-anchor="end" >0</text>
<text x="494.1" y="442.9" font-size="14" fill="#222" stroke="#222" stroke-width="0.12" text-anchor="end" >0</text>
<text x="294.23" y="457.87" font-size="12.96" fill="#222" stroke="#222" stroke-width="0.12" textLength="20.57" lengthAdjust="spacingAndGlyphs" >-50</text>
<text x="349.5" y="457.87" font-size="12.96" fill="#222" stroke="#222" stroke-width="0.12" textLength="8.34" lengthAdjust="spacingAndGlyphs" >0</text>
<text x="394.94" y="457.87" font-size="12.96" fill="#222" stroke="#222" stroke-width="0.12" textLength="15.44" lengthAdjust="spacingAndGlyphs" >50</text>
<text x="527.92" y="457.87" font-size="12.96" fill="#222" stroke="#222" stroke-width="0.12" textLength="21.1" lengthAdjust="spacingAndGlyphs" >-50</text>
<text x="583.9" y="457.87" font-size="12.96" fill="#222" stroke="#222" stroke-width="0.12" textLength="8.34" lengthAdjust="spacingAndGlyphs" >0</text>
<text x="627.67" y="457.87" font-size="12.96" fill="#222" stroke="#222" stroke-width="0.12" textLength="14.69" lengthAdjust="spacingAndGlyphs" >50</text>
<text x="239.29" y="510.8" font-size="17.92" fill="#000" stroke="#000" stroke-width="0.12" textLength="230.92" lengthAdjust="spacingAndGlyphs" >Image motion direction (°)</text>
<text x="-0.02" y="548.1" font-size="17.97" fill="#000" stroke="#000" stroke-width="0.5" font-weight="bold" textLength="11.49" lengthAdjust="spacingAndGlyphs" >F</text>
<text x="231.29" y="548.22" font-size="18.31" fill="#000" stroke="#000" stroke-width="0.5" font-weight="bold" textLength="13.84" lengthAdjust="spacingAndGlyphs" >G</text>
<text x="468.45" y="548.1" font-size="17.97" fill="#000" stroke="#000" stroke-width="0.5" font-weight="bold" textLength="13.95" lengthAdjust="spacingAndGlyphs" >H</text>
<text transform="translate(11.6,757.8) rotate(-90)" x="-0.89" y="0" font-size="16.04" fill="#000" textLength="91.54" lengthAdjust="spacingAndGlyphs">Slope (a.u.)</text>
<line x1="45.5" y1="552.3" x2="45.5" y2="872.5" stroke="#444" stroke-width="1.1" />
<line x1="45.5" y1="552.3" x2="48.8" y2="552.3" stroke="#444" stroke-width="1.1" />
<line x1="45" y1="872.5" x2="216.7" y2="872.5" stroke="#4a4a4a" stroke-width="1.1" />
<line x1="68.5" y1="872.5" x2="68.5" y2="868.3" stroke="#4a4a4a" stroke-width="1.0" />
<line x1="114.3" y1="872.5" x2="114.3" y2="868.3" stroke="#4a4a4a" stroke-width="1.0" />
<line x1="147.6" y1="872.5" x2="147.6" y2="868.3" stroke="#4a4a4a" stroke-width="1.0" />
<line x1="193.4" y1="872.5" x2="193.4" y2="868.3" stroke="#4a4a4a" stroke-width="1.0" />
<line x1="45.5" y1="711.5" x2="216.7" y2="711.5" stroke="#222" stroke-width="1.1" stroke-dasharray="7.15,4.4" />
<text x="35.5" y="715.8" font-size="13.5" fill="#222" stroke="#222" stroke-width="0.12" text-anchor="end" >0</text>
<line x1="67" y1="711.5" x2="113.2" y2="695.3" stroke="#b0b0b0" stroke-width="1.1" />
<line x1="146.8" y1="711.5" x2="193.1" y2="726.3" stroke="#b0b0b0" stroke-width="1.1" />
<line x1="67" y1="711.5" x2="113.2" y2="651.3" stroke="#7a7a7a" stroke-width="1.1" />
<line x1="146.8" y1="711.5" x2="193.1" y2="770.5" stroke="#7a7a7a" stroke-width="1.1" />
<line x1="67" y1="711.5" x2="113.2" y2="607.6" stroke="#444" stroke-width="1.1" />
<line x1="146.8" y1="711.5" x2="193.1" y2="814.5" stroke="#444" stroke-width="1.1" />
<line x1="67" y1="711.5" x2="113.2" y2="563.6" stroke="#111" stroke-width="1.1" />
<line x1="146.8" y1="711.5" x2="193.1" y2="857.8" stroke="#111" stroke-width="1.1" />
<circle cx="113.2" cy="563.6" r="3.8" fill="#fff" stroke="none" stroke-width="1" />
<circle cx="113.2" cy="563.6" r="3.3" fill="#0a6cbf" stroke="none" stroke-width="1" />
<polygon points="193.1,852.91 197.7,860.76 188.5,860.76" fill="#fff" stroke="none" stroke-width="1" />
<polygon points="193.1,853.71 196.9,860.31 189.3,860.31" fill="#0a6cbf" stroke="none" stroke-width="1" />
<circle cx="113.2" cy="607.6" r="3.8" fill="#fff" stroke="none" stroke-width="1" />
<circle cx="113.2" cy="607.6" r="3.3" fill="#0c82d0" stroke="none" stroke-width="1" />
<polygon points="193.1,809.61 197.7,817.46 188.5,817.46" fill="#fff" stroke="none" stroke-width="1" />
<polygon points="193.1,810.41 196.9,817.01 189.3,817.01" fill="#0c82d0" stroke="none" stroke-width="1" />
<circle cx="113.2" cy="651.3" r="3.8" fill="#fff" stroke="none" stroke-width="1" />
<circle cx="113.2" cy="651.3" r="3.3" fill="#11a7e1" stroke="none" stroke-width="1" />
<polygon points="193.1,765.61 197.7,773.46 188.5,773.46" fill="#fff" stroke="none" stroke-width="1" />
<polygon points="193.1,766.41 196.9,773.01 189.3,773.01" fill="#11a7e1" stroke="none" stroke-width="1" />
<circle cx="113.2" cy="695.3" r="3.8" fill="#fff" stroke="none" stroke-width="1" />
<circle cx="113.2" cy="695.3" r="3.3" fill="#10d8f2" stroke="none" stroke-width="1" />
<polygon points="193.1,721.41 197.7,729.26 188.5,729.26" fill="#fff" stroke="none" stroke-width="1" />
<polygon points="193.1,722.21 196.9,728.81 189.3,728.81" fill="#10d8f2" stroke="none" stroke-width="1" />
<circle cx="67" cy="711.5" r="3.8" fill="#fff" stroke="none" stroke-width="1" />
<circle cx="67" cy="711.5" r="3.3" fill="#d95319" stroke="none" stroke-width="1" />
<polygon points="146.8,706.71 151.4,714.56 142.2,714.56" fill="#fff" stroke="none" stroke-width="1" />
<polygon points="146.8,707.51 150.6,714.11 143,714.11" fill="#d95319" stroke="none" stroke-width="1" />
<text x="61.28" y="891.26" font-size="16.32" fill="#000" stroke="#000" stroke-width="0.12" textLength="11.87" lengthAdjust="spacingAndGlyphs" >R</text>
<text x="96.99" y="891.1" font-size="16.09" fill="#000" stroke="#000" stroke-width="0.12" textLength="33.68" lengthAdjust="spacingAndGlyphs" >R+T</text>
<text x="143.58" y="891.26" font-size="16.32" fill="#000" stroke="#000" stroke-width="0.12" textLength="11.87" lengthAdjust="spacingAndGlyphs" >R</text>
<text x="176.3" y="891.1" font-size="16.09" fill="#000" stroke="#000" stroke-width="0.12" textLength="33.47" lengthAdjust="spacingAndGlyphs" >R+T</text>
<text x="60.6" y="912.9" font-size="15.66" fill="#000" stroke="#000" stroke-width="0.12" textLength="67.04" lengthAdjust="spacingAndGlyphs" >Leftward</text>
<text x="141.79" y="912.9" font-size="15.66" fill="#000" stroke="#000" stroke-width="0.12" textLength="79.1" lengthAdjust="spacingAndGlyphs" >Rightward</text>
<line x1="266.9" y1="552.3" x2="266.9" y2="872.5" stroke="#a0a0a0" stroke-width="1.8" />
<line x1="266.9" y1="552.3" x2="270.2" y2="552.3" stroke="#a0a0a0" stroke-width="1.1" />
<line x1="266.4" y1="872.5" x2="451" y2="872.5" stroke="#4a4a4a" stroke-width="1.1" />
<line x1="290" y1="872.5" x2="290" y2="868.3" stroke="#4a4a4a" stroke-width="1.0" />
<line x1="335.5" y1="872.5" x2="335.5" y2="868.3" stroke="#4a4a4a" stroke-width="1.0" />
<line x1="381.9" y1="872.5" x2="381.9" y2="868.3" stroke="#4a4a4a" stroke-width="1.0" />
<line x1="427.9" y1="872.5" x2="427.9" y2="868.3" stroke="#4a4a4a" stroke-width="1.0" />
<line x1="266.9" y1="712.4" x2="451" y2="712.4" stroke="#222" stroke-width="1.1" stroke-dasharray="7.15,4.4" />
<line x1="267" y1="553.28" x2="270.3" y2="553.28" stroke="#8c8c8c" stroke-width="1.0" />
<text x="260.9" y="557.58" font-size="13.5" fill="#222" stroke="#222" stroke-width="0.12" text-anchor="end" >6</text>
<line x1="267" y1="606.32" x2="270.3" y2="606.32" stroke="#8c8c8c" stroke-width="1.0" />
<text x="260.9" y="610.62" font-size="13.5" fill="#222" stroke="#222" stroke-width="0.12" text-anchor="end" >4</text>
<line x1="267" y1="659.36" x2="270.3" y2="659.36" stroke="#8c8c8c" stroke-width="1.0" />
<text x="260.9" y="663.66" font-size="13.5" fill="#222" stroke="#222" stroke-width="0.12" text-anchor="end" >2</text>
<line x1="267" y1="712.4" x2="270.3" y2="712.4" stroke="#8c8c8c" stroke-width="1.0" />
<text x="260.9" y="716.7" font-size="13.5" fill="#222" stroke="#222" stroke-width="0.12" text-anchor="end" >0</text>
<line x1="267" y1="765.44" x2="270.3" y2="765.44" stroke="#8c8c8c" stroke-width="1.0" />
<text x="260.9" y="769.74" font-size="13.5" fill="#222" stroke="#222" stroke-width="0.12" text-anchor="end" >-2</text>
<line x1="267" y1="818.48" x2="270.3" y2="818.48" stroke="#8c8c8c" stroke-width="1.0" />
<text x="260.9" y="822.78" font-size="13.5" fill="#222" stroke="#222" stroke-width="0.12" text-anchor="end" >-4</text>
<line x1="267" y1="871.52" x2="270.3" y2="871.52" stroke="#8c8c8c" stroke-width="1.0" />
<text x="260.9" y="875.82" font-size="13.5" fill="#222" stroke="#222" stroke-width="0.12" text-anchor="end" >-6</text>
<line x1="291.5" y1="685.08" x2="333.5" y2="677.92" stroke="#111" stroke-width="1.0" />
<line x1="291.5" y1="701.26" x2="333.5" y2="689.86" stroke="#111" stroke-width="1.0" />
<line x1="291.5" y1="704.18" x2="333.5" y2="691.98" stroke="#111" stroke-width="1.0" />
<line x1="291.5" y1="707.36" x2="333.5" y2="688.53" stroke="#111" stroke-width="1.0" />
<line x1="291.5" y1="709.75" x2="333.5" y2="691.18" stroke="#111" stroke-width="1.0" />
<line x1="291.5" y1="712.4" x2="333.5" y2="701.79" stroke="#111" stroke-width="1.0" />
<line x1="291.5" y1="705.77" x2="333.5" y2="685.08" stroke="#111" stroke-width="1.0" />
<line x1="291.5" y1="703.12" x2="333.5" y2="693.31" stroke="#111" stroke-width="1.0" />
<line x1="291.5" y1="693.04" x2="334" y2="574.5" stroke="#777" stroke-width="1.0" stroke-dasharray="3,2.6" />
<line x1="291.5" y1="693.04" x2="334" y2="582.45" stroke="#777" stroke-width="1.0" stroke-dasharray="3,2.6" />
<line x1="291.5" y1="693.04" x2="334" y2="643.45" stroke="#777" stroke-width="1.0" stroke-dasharray="3,2.6" />
<circle cx="289.3" cy="685.08" r="3.8" fill="#fff" stroke="none" stroke-width="1" />
<circle cx="289.3" cy="685.08" r="3.3" fill="#d95319" stroke="none" stroke-width="1" />
<circle cx="290.5" cy="701.26" r="3.8" fill="#fff" stroke="none" stroke-width="1" />
<circle cx="290.5" cy="701.26" r="3.3" fill="#d95319" stroke="none" stroke-width="1" />
<circle cx="289.3" cy="704.18" r="3.8" fill="#fff" stroke="none" stroke-width="1" />
<circle cx="289.3" cy="704.18" r="3.3" fill="#d95319" stroke="none" stroke-width="1" />
<circle cx="289.3" cy="707.36" r="3.8" fill="#fff" stroke="none" stroke-width="1" />
<circle cx="289.3" cy="707.36" r="3.3" fill="#d95319" stroke="none" stroke-width="1" />
<circle cx="289.3" cy="709.75" r="3.8" fill="#fff" stroke="none" stroke-width="1" />
<circle cx="289.3" cy="709.75" r="3.3" fill="#d95319" stroke="none" stroke-width="1" />
<circle cx="290.5" cy="712.4" r="3.8" fill="#fff" stroke="none" stroke-width="1" />
<circle cx="290.5" cy="712.4" r="3.3" fill="#d95319" stroke="none" stroke-width="1" />
<circle cx="290.5" cy="705.77" r="3.8" fill="#fff" stroke="none" stroke-width="1" />
<circle cx="290.5" cy="705.77" r="3.3" fill="#d95319" stroke="none" stroke-width="1" />
<circle cx="289.3" cy="703.12" r="3.8" fill="#fff" stroke="none" stroke-width="1" />
<circle cx="289.3" cy="703.12" r="3.3" fill="#d95319" stroke="none" stroke-width="1" />
<circle cx="291" cy="693.04" r="3.8" fill="#fff" stroke="none" stroke-width="1" />
<circle cx="291" cy="693.04" r="3.3" fill="#dfa186" stroke="none" stroke-width="1" />
<circle cx="335" cy="677.92" r="3.8" fill="#fff" stroke="none" stroke-width="1" />
<circle cx="335" cy="677.92" r="3.3" fill="#0072bd" stroke="none" stroke-width="1" />
<circle cx="335" cy="689.86" r="3.8" fill="#fff" stroke="none" stroke-width="1" />
<circle cx="335" cy="689.86" r="3.3" fill="#0072bd" stroke="none" stroke-width="1" />
<circle cx="335" cy="691.98" r="3.8" fill="#fff" stroke="none" stroke-width="1" />
<circle cx="335" cy="691.98" r="3.3" fill="#0072bd" stroke="none" stroke-width="1" />
<circle cx="337.5" cy="688.53" r="3.8" fill="#fff" stroke="none" stroke-width="1" />
<circle cx="337.5" cy="688.53" r="3.3" fill="#0072bd" stroke="none" stroke-width="1" />
<circle cx="335" cy="691.18" r="3.8" fill="#fff" stroke="none" stroke-width="1" />
<circle cx="335" cy="691.18" r="3.3" fill="#0072bd" stroke="none" stroke-width="1" />
<circle cx="335" cy="701.79" r="3.8" fill="#fff" stroke="none" stroke-width="1" />
<circle cx="335" cy="701.79" r="3.3" fill="#0072bd" stroke="none" stroke-width="1" />
<circle cx="337.5" cy="685.08" r="3.8" fill="#fff" stroke="none" stroke-width="1" />
<circle cx="337.5" cy="685.08" r="3.3" fill="#0072bd" stroke="none" stroke-width="1" />
<circle cx="337.5" cy="693.31" r="3.8" fill="#fff" stroke="none" stroke-width="1" />
<circle cx="337.5" cy="693.31" r="3.3" fill="#0072bd" stroke="none" stroke-width="1" />
<circle cx="335.4" cy="574.5" r="3.8" fill="#fff" stroke="none" stroke-width="1" />
<circle cx="335.4" cy="574.5" r="3.3" fill="#5a9bcc" stroke="none" stroke-width="1" />
<circle cx="334" cy="582.45" r="3.8" fill="#fff" stroke="none" stroke-width="1" />
<circle cx="334" cy="582.45" r="3.3" fill="#5a9bcc" stroke="none" stroke-width="1" />
<circle cx="336.7" cy="643.45" r="3.8" fill="#fff" stroke="none" stroke-width="1" />
<circle cx="336.7" cy="643.45" r="3.3" fill="#5a9bcc" stroke="none" stroke-width="1" />
<line x1="278.2" y1="698.12" x2="278.2" y2="708.12" stroke="#d95319" stroke-width="1.7" />
<circle cx="278.2" cy="703.12" r="4.7" fill="none" stroke="#d95319" stroke-width="1.7" />
<line x1="347.3" y1="633.7" x2="347.3" y2="692.4" stroke="#0072bd" stroke-width="1.9" />
<circle cx="347.3" cy="663.1" r="4.8" fill="#fff" stroke="#0072bd" stroke-width="1.8" />
<line x1="347.3" y1="658.3" x2="347.3" y2="667.9" stroke="#0072bd" stroke-width="1.8" />
<line x1="382.5" y1="712.4" x2="426.5" y2="732.02" stroke="#111" stroke-width="1.0" />
<line x1="382.5" y1="712.4" x2="426.5" y2="740.51" stroke="#111" stroke-width="1.0" />
<line x1="382.5" y1="712.4" x2="426.5" y2="759.34" stroke="#111" stroke-width="1.0" />
<line x1="382.5" y1="712.4" x2="426.5" y2="733.62" stroke="#111" stroke-width="1.0" />
<line x1="382.5" y1="730.17" x2="426.5" y2="732.02" stroke="#111" stroke-width="1.0" />
<line x1="382.5" y1="730.17" x2="426.5" y2="747.14" stroke="#111" stroke-width="1.0" />
<line x1="382.5" y1="736" x2="426.5" y2="732.02" stroke="#111" stroke-width="1.0" />
<line x1="382.5" y1="736" x2="426.5" y2="747.14" stroke="#111" stroke-width="1.0" />
<line x1="382.5" y1="736" x2="426.5" y2="751.91" stroke="#111" stroke-width="1.0" />
<line x1="382.5" y1="772.07" x2="428" y2="788.78" stroke="#777" stroke-width="1.0" stroke-dasharray="3,2.6" />
<line x1="382" y1="737.59" x2="426.8" y2="823.25" stroke="#777" stroke-width="1.0" stroke-dasharray="3,2.6" />
<line x1="382" y1="712.4" x2="428" y2="740.51" stroke="#777" stroke-width="1.0" stroke-dasharray="3,2.6" />
<polygon points="381.2,707.51 385.8,715.36 376.6,715.36" fill="#fff" stroke="none" stroke-width="1" />
<polygon points="381.2,708.31 385,714.91 377.4,714.91" fill="#d95319" stroke="none" stroke-width="1" />
<polygon points="381.2,725.28 385.8,733.13 376.6,733.13" fill="#fff" stroke="none" stroke-width="1" />
<polygon points="381.2,726.08 385,732.68 377.4,732.68" fill="#d95319" stroke="none" stroke-width="1" />
<polygon points="381.2,731.11 385.8,738.96 376.6,738.96" fill="#fff" stroke="none" stroke-width="1" />
<polygon points="381.2,731.91 385,738.51 377.4,738.51" fill="#d95319" stroke="none" stroke-width="1" />
<polygon points="382.9,767.18 387.5,775.03 378.3,775.03" fill="#fff" stroke="none" stroke-width="1" />
<polygon points="382.9,767.98 386.7,774.58 379.1,774.58" fill="#dfa186" stroke="none" stroke-width="1" />
<polygon points="426.3,727.13 430.9,734.98 421.7,734.98" fill="#fff" stroke="none" stroke-width="1" />
<polygon points="426.3,727.93 430.1,734.53 422.5,734.53" fill="#0072bd" stroke="none" stroke-width="1" />
<polygon points="428.3,735.62 432.9,743.47 423.7,743.47" fill="#fff" stroke="none" stroke-width="1" />
<polygon points="428.3,736.42 432.1,743.02 424.5,743.02" fill="#0072bd" stroke="none" stroke-width="1" />
<polygon points="425.8,742.25 430.4,750.1 421.2,750.1" fill="#fff" stroke="none" stroke-width="1" />
<polygon points="425.8,743.05 429.6,749.65 422,749.65" fill="#0072bd" stroke="none" stroke-width="1" />
<polygon points="428.3,747.02 432.9,754.87 423.7,754.87" fill="#fff" stroke="none" stroke-width="1" />
<polygon points="428.3,747.82 432.1,754.42 424.5,754.42" fill="#0072bd" stroke="none" stroke-width="1" />
<polygon points="427.8,754.45 432.4,762.3 423.2,762.3" fill="#fff" stroke="none" stroke-width="1" />
<polygon points="427.8,755.25 431.6,761.85 424,761.85" fill="#0072bd" stroke="none" stroke-width="1" />
<polygon points="428.7,783.89 433.3,791.74 424.1,791.74" fill="#fff" stroke="none" stroke-width="1" />
<polygon points="428.7,784.69 432.5,791.29 424.9,791.29" fill="#5a9bcc" stroke="none" stroke-width="1" />
<polygon points="426.8,818.36 431.4,826.21 422.2,826.21" fill="#fff" stroke="none" stroke-width="1" />
<polygon points="426.8,819.16 430.6,825.76 423,825.76" fill="#5a9bcc" stroke="none" stroke-width="1" />
<line x1="370.4" y1="717.1" x2="370.4" y2="739.4" stroke="#d95319" stroke-width="1.8" />
<polygon points="370.4,721.89 376.9,732.09 363.9,732.09" fill="none" stroke="#d95319" stroke-width="1.8" />
<line x1="439.5" y1="739.6" x2="439.5" y2="774.5" stroke="#0072bd" stroke-width="1.9" />
<polygon points="439.5,751.19 446,761.39 433,761.39" fill="none" stroke="#0072bd" stroke-width="1.8" />
<text x="283.5" y="891.06" font-size="16.18" fill="#000" stroke="#000" stroke-width="0.12" textLength="11.75" lengthAdjust="spacingAndGlyphs" >R</text>
<text x="319" y="890.9" font-size="15.94" fill="#000" stroke="#000" stroke-width="0.12" textLength="33.57" lengthAdjust="spacingAndGlyphs" >R+T</text>
<text x="378.07" y="891.06" font-size="16.18" fill="#000" stroke="#000" stroke-width="0.12" textLength="12" lengthAdjust="spacingAndGlyphs" >R</text>
<text x="410.89" y="890.9" font-size="15.94" fill="#000" stroke="#000" stroke-width="0.12" textLength="33.68" lengthAdjust="spacingAndGlyphs" >R+T</text>
<text x="282.8" y="912.9" font-size="15.47" fill="#000" stroke="#000" stroke-width="0.12" textLength="67.35" lengthAdjust="spacingAndGlyphs" >Leftward</text>
<text x="376.81" y="912.9" font-size="15.47" fill="#000" stroke="#000" stroke-width="0.12" textLength="78.48" lengthAdjust="spacingAndGlyphs" >Rightward</text>
<line x1="500" y1="552.3" x2="500" y2="872.5" stroke="#a5a5a5" stroke-width="1.8" />
<line x1="500" y1="552.3" x2="503.3" y2="552.3" stroke="#a5a5a5" stroke-width="1.1" />
<line x1="499.5" y1="872.5" x2="686" y2="872.5" stroke="#4a4a4a" stroke-width="1.1" />
<line x1="523.3" y1="872.5" x2="523.3" y2="868.3" stroke="#4a4a4a" stroke-width="1.0" />
<line x1="569.1" y1="872.5" x2="569.1" y2="868.3" stroke="#4a4a4a" stroke-width="1.0" />
<line x1="615.2" y1="872.5" x2="615.2" y2="868.3" stroke="#4a4a4a" stroke-width="1.0" />
<line x1="661.4" y1="872.5" x2="661.4" y2="868.3" stroke="#4a4a4a" stroke-width="1.0" />
<line x1="500" y1="735.3" x2="686" y2="735.3" stroke="#222" stroke-width="1.1" stroke-dasharray="7.15,4.4" />
<line x1="500" y1="552.7" x2="503.3" y2="552.7" stroke="#555" stroke-width="1.0" />
<line x1="500" y1="598.35" x2="503.3" y2="598.35" stroke="#555" stroke-width="1.0" />
<line x1="500" y1="644" x2="503.3" y2="644" stroke="#555" stroke-width="1.0" />
<line x1="500" y1="689.65" x2="503.3" y2="689.65" stroke="#555" stroke-width="1.0" />
<line x1="500" y1="735.3" x2="503.3" y2="735.3" stroke="#555" stroke-width="1.0" />
<line x1="500" y1="780.95" x2="503.3" y2="780.95" stroke="#555" stroke-width="1.0" />
<line x1="500" y1="826.6" x2="503.3" y2="826.6" stroke="#555" stroke-width="1.0" />
<line x1="500" y1="872.25" x2="503.3" y2="872.25" stroke="#555" stroke-width="1.0" />
<text x="494.1" y="557" font-size="13.5" fill="#222" stroke="#222" stroke-width="0.12" text-anchor="end" >2</text>
<text x="494.1" y="648.3" font-size="13.5" fill="#222" stroke="#222" stroke-width="0.12" text-anchor="end" >1</text>
<text x="494.1" y="739.6" font-size="13.5" fill="#222" stroke="#222" stroke-width="0.12" text-anchor="end" >0</text>
<text x="494.1" y="830.9" font-size="13.5" fill="#222" stroke="#222" stroke-width="0.12" text-anchor="end" >-1</text>
<line x1="524.6" y1="690.56" x2="571" y2="681.43" stroke="#111" stroke-width="1.0" />
<line x1="521.3" y1="696.95" x2="567.5" y2="725.26" stroke="#111" stroke-width="1.0" />
<line x1="524.2" y1="707.91" x2="570.1" y2="641.26" stroke="#111" stroke-width="1.0" />
<line x1="524.2" y1="723.43" x2="570.1" y2="587.39" stroke="#111" stroke-width="1.0" />
<line x1="525.1" y1="729.82" x2="570.1" y2="647.65" stroke="#111" stroke-width="1.0" />
<line x1="522.5" y1="735.3" x2="568.9" y2="654.96" stroke="#111" stroke-width="1.0" />
<line x1="525.1" y1="729.82" x2="571" y2="681.43" stroke="#111" stroke-width="1.0" />
<circle cx="524.6" cy="690.56" r="3.8" fill="#fff" stroke="none" stroke-width="1" />
<circle cx="524.6" cy="690.56" r="3.3" fill="#d95319" stroke="none" stroke-width="1" />
<circle cx="521.3" cy="696.95" r="3.8" fill="#fff" stroke="none" stroke-width="1" />
<circle cx="521.3" cy="696.95" r="3.3" fill="#d95319" stroke="none" stroke-width="1" />
<circle cx="524.2" cy="707.91" r="3.8" fill="#fff" stroke="none" stroke-width="1" />
<circle cx="524.2" cy="707.91" r="3.3" fill="#d95319" stroke="none" stroke-width="1" />
<circle cx="524.2" cy="723.43" r="3.8" fill="#fff" stroke="none" stroke-width="1" />
<circle cx="524.2" cy="723.43" r="3.3" fill="#d95319" stroke="none" stroke-width="1" />
<circle cx="525.1" cy="729.82" r="3.8" fill="#fff" stroke="none" stroke-width="1" />
<circle cx="525.1" cy="729.82" r="3.3" fill="#d95319" stroke="none" stroke-width="1" />
<circle cx="522.5" cy="735.3" r="3.8" fill="#fff" stroke="none" stroke-width="1" />
<circle cx="522.5" cy="735.3" r="3.3" fill="#d95319" stroke="none" stroke-width="1" />
<circle cx="525.1" cy="729.82" r="3.8" fill="#fff" stroke="none" stroke-width="1" />
<circle cx="525.1" cy="729.82" r="3.3" fill="#d95319" stroke="none" stroke-width="1" />
<circle cx="570.1" cy="587.39" r="3.8" fill="#fff" stroke="none" stroke-width="1" />
<circle cx="570.1" cy="587.39" r="3.3" fill="#0072bd" stroke="none" stroke-width="1" />
<circle cx="570.1" cy="641.26" r="3.8" fill="#fff" stroke="none" stroke-width="1" />
<circle cx="570.1" cy="641.26" r="3.3" fill="#0072bd" stroke="none" stroke-width="1" />
<circle cx="570.1" cy="647.65" r="3.8" fill="#fff" stroke="none" stroke-width="1" />
<circle cx="570.1" cy="647.65" r="3.3" fill="#0072bd" stroke="none" stroke-width="1" />
<circle cx="568.9" cy="654.96" r="3.8" fill="#fff" stroke="none" stroke-width="1" />
<circle cx="568.9" cy="654.96" r="3.3" fill="#0072bd" stroke="none" stroke-width="1" />
<circle cx="571" cy="681.43" r="3.8" fill="#fff" stroke="none" stroke-width="1" />
<circle cx="571" cy="681.43" r="3.3" fill="#0072bd" stroke="none" stroke-width="1" />
<circle cx="567.5" cy="725.26" r="3.8" fill="#fff" stroke="none" stroke-width="1" />
<circle cx="567.5" cy="725.26" r="3.3" fill="#0072bd" stroke="none" stroke-width="1" />
<line x1="511.2" y1="704.3" x2="511.2" y2="730.6" stroke="#d95319" stroke-width="1.7" />
<circle cx="511.2" cy="717.2" r="4.8" fill="#fff" stroke="#d95319" stroke-width="1.6" />
<line x1="511.2" y1="712.4" x2="511.2" y2="722" stroke="#d95319" stroke-width="1.6" />
<line x1="580.5" y1="628.5" x2="580.5" y2="690.8" stroke="#0072bd" stroke-width="1.9" />
<circle cx="580.5" cy="659.6" r="4.8" fill="#fff" stroke="#0072bd" stroke-width="1.8" />
<line x1="580.5" y1="654.8" x2="580.5" y2="664.4" stroke="#0072bd" stroke-width="1.8" />
<line x1="614.2" y1="735.3" x2="659.6" y2="806.51" stroke="#111" stroke-width="1.0" />
<line x1="614.2" y1="735.3" x2="661.9" y2="814.73" stroke="#111" stroke-width="1.0" />
<line x1="614.2" y1="735.3" x2="659.2" y2="830.25" stroke="#111" stroke-width="1.0" />
<line x1="615.8" y1="740.78" x2="661.9" y2="814.73" stroke="#111" stroke-width="1.0" />
<line x1="615" y1="757.21" x2="659.6" y2="841.21" stroke="#111" stroke-width="1.0" />
<line x1="614.2" y1="765.43" x2="660" y2="845.77" stroke="#111" stroke-width="1.0" />
<line x1="617.3" y1="800.12" x2="662.6" y2="860.38" stroke="#111" stroke-width="1.0" />
<line x1="614.2" y1="859.47" x2="659.6" y2="794.64" stroke="#111" stroke-width="1.0" />
<polygon points="613.2,730.41 617.8,738.26 608.6,738.26" fill="#fff" stroke="none" stroke-width="1" />
<polygon points="613.2,731.21 617,737.81 609.4,737.81" fill="#d95319" stroke="none" stroke-width="1" />
<polygon points="614.8,735.89 619.4,743.74 610.2,743.74" fill="#fff" stroke="none" stroke-width="1" />
<polygon points="614.8,736.69 618.6,743.29 611,743.29" fill="#d95319" stroke="none" stroke-width="1" />
<polygon points="614,752.32 618.6,760.17 609.4,760.17" fill="#fff" stroke="none" stroke-width="1" />
<polygon points="614,753.12 617.8,759.72 610.2,759.72" fill="#d95319" stroke="none" stroke-width="1" />
<polygon points="613.2,760.54 617.8,768.39 608.6,768.39" fill="#fff" stroke="none" stroke-width="1" />
<polygon points="613.2,761.34 617,767.94 609.4,767.94" fill="#d95319" stroke="none" stroke-width="1" />
<polygon points="616.3,795.23 620.9,803.08 611.7,803.08" fill="#fff" stroke="none" stroke-width="1" />
<polygon points="616.3,796.03 620.1,802.63 612.5,802.63" fill="#d95319" stroke="none" stroke-width="1" />
<polygon points="613.2,854.58 617.8,862.43 608.6,862.43" fill="#fff" stroke="none" stroke-width="1" />
<polygon points="613.2,855.38 617,861.98 609.4,861.98" fill="#d95319" stroke="none" stroke-width="1" />
<polygon points="659.6,789.75 664.2,797.6 655,797.6" fill="#fff" stroke="none" stroke-width="1" />
<polygon points="659.6,790.55 663.4,797.15 655.8,797.15" fill="#0072bd" stroke="none" stroke-width="1" />
<polygon points="659.6,801.62 664.2,809.47 655,809.47" fill="#fff" stroke="none" stroke-width="1" />
<polygon points="659.6,802.42 663.4,809.02 655.8,809.02" fill="#0072bd" stroke="none" stroke-width="1" />
<polygon points="661.9,809.84 666.5,817.69 657.3,817.69" fill="#fff" stroke="none" stroke-width="1" />
<polygon points="661.9,810.64 665.7,817.24 658.1,817.24" fill="#0072bd" stroke="none" stroke-width="1" />
<polygon points="659.2,825.36 663.8,833.21 654.6,833.21" fill="#fff" stroke="none" stroke-width="1" />
<polygon points="659.2,826.16 663,832.76 655.4,832.76" fill="#0072bd" stroke="none" stroke-width="1" />
<polygon points="659.6,836.32 664.2,844.17 655,844.17" fill="#fff" stroke="none" stroke-width="1" />
<polygon points="659.6,837.12 663.4,843.72 655.8,843.72" fill="#0072bd" stroke="none" stroke-width="1" />
<polygon points="660,840.88 664.6,848.73 655.4,848.73" fill="#fff" stroke="none" stroke-width="1" />
<polygon points="660,841.68 663.8,848.28 656.2,848.28" fill="#0072bd" stroke="none" stroke-width="1" />
<polygon points="662.6,855.49 667.2,863.34 658,863.34" fill="#fff" stroke="none" stroke-width="1" />
<polygon points="662.6,856.29 666.4,862.89 658.8,862.89" fill="#0072bd" stroke="none" stroke-width="1" />
<line x1="603.6" y1="737.2" x2="603.6" y2="804" stroke="#d95319" stroke-width="1.8" />
<polygon points="603.6,764.39 610.1,774.59 597.1,774.59" fill="none" stroke="#d95319" stroke-width="1.8" />
<line x1="672.5" y1="810.9" x2="672.5" y2="845.1" stroke="#0072bd" stroke-width="1.9" />
<polygon points="672.5,822.39 679,832.59 666,832.59" fill="none" stroke="#0072bd" stroke-width="1.8" />
<text x="517.33" y="892.06" font-size="16.47" fill="#000" stroke="#000" stroke-width="0.12" textLength="11.51" lengthAdjust="spacingAndGlyphs" >R</text>
<text x="550.29" y="891.9" font-size="16.23" fill="#000" stroke="#000" stroke-width="0.12" textLength="33.68" lengthAdjust="spacingAndGlyphs" >R+T</text>
<text x="608.86" y="892.06" font-size="16.47" fill="#000" stroke="#000" stroke-width="0.12" textLength="12.12" lengthAdjust="spacingAndGlyphs" >R</text>
<text x="642.29" y="891.9" font-size="16.23" fill="#000" stroke="#000" stroke-width="0.12" textLength="33.68" lengthAdjust="spacingAndGlyphs" >R+T</text>
<text x="516.5" y="914" font-size="16.04" fill="#000" stroke="#000" stroke-width="0.12" textLength="67.15" lengthAdjust="spacingAndGlyphs" >Leftward</text>
<text x="607.6" y="914" font-size="16.04" fill="#000" stroke="#000" stroke-width="0.12" textLength="78.89" lengthAdjust="spacingAndGlyphs" >Rightward</text>
<text x="115.62" y="950.4" font-size="18.49" fill="#000" stroke="#000" stroke-width="0.12" textLength="497.91" lengthAdjust="spacingAndGlyphs" >Simulated viewing geometry &amp; direction of eye movement</text>
</svg></body></html>
